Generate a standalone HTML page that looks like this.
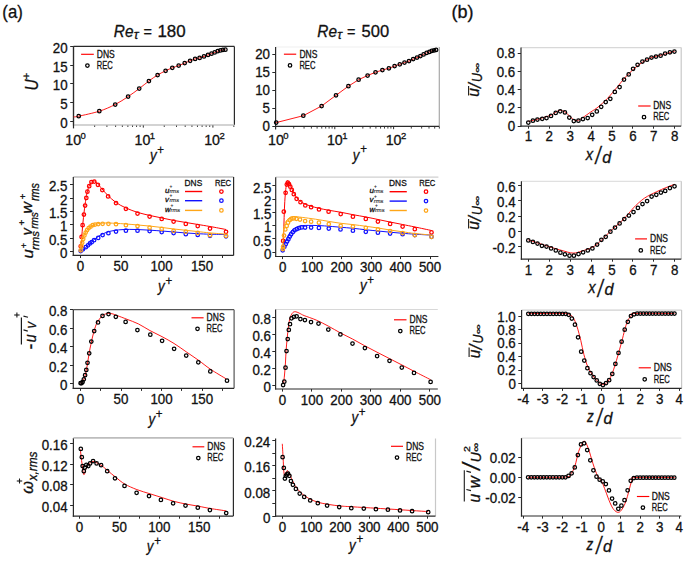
<!DOCTYPE html><html><head><meta charset="utf-8"><style>html,body{margin:0;padding:0;background:#fff;}svg{display:block;}</style></head><body><svg width="685" height="563" viewBox="0 0 685 563" font-family='"Liberation Sans", sans-serif' fill="#111" stroke="#111" stroke-width="0.3">
<rect width="685" height="563" fill="#fff" stroke="none"/>
<text transform="translate(2.36,17.53) scale(0.9461,1)" font-size="17.71">(a)</text>
<text transform="translate(451.48,17.61) scale(1.0119,1)" font-size="17.82">(b)</text>
<text transform="translate(113.83,36.94) scale(0.9323,1)" font-size="16.48" font-style="italic">Re</text>
<text transform="translate(133.83,38.68) scale(1.0332,1)" font-size="12.45" font-style="italic">τ</text>
<text transform="translate(143.5,36.55) scale(1.0318,1)" font-size="13.96">=</text>
<text transform="translate(157.41,36.94) scale(1.0425,1)" font-size="16.24">180</text>
<text transform="translate(317.33,36.94) scale(0.9323,1)" font-size="16.48" font-style="italic">Re</text>
<text transform="translate(337.33,38.68) scale(1.0332,1)" font-size="12.45" font-style="italic">τ</text>
<text transform="translate(347,36.55) scale(1.0318,1)" font-size="13.96">=</text>
<text transform="translate(361.54,36.94) scale(1.0188,1)" font-size="16.24">500</text>
<line x1="73.5" y1="46.4" x2="234.4" y2="46.4" stroke="#2a2a2a" stroke-width="1.2"/>
<line x1="234.4" y1="46.4" x2="234.4" y2="125" stroke="#2a2a2a" stroke-width="1.2"/>
<line x1="73.5" y1="46.4" x2="73.5" y2="125.6" stroke="#2a2a2a" stroke-width="1.2"/>
<line x1="73.5" y1="125" x2="234.4" y2="125" stroke="#c4c4c4" stroke-width="1.5"/>
<line x1="73.5" y1="46.4" x2="73.5" y2="128.4" stroke="#2a2a2a" stroke-width="1.2"/>
<line x1="70.2" y1="121.5" x2="73.5" y2="121.5" stroke="#2a2a2a" stroke-width="1.0"/>
<text x="67.7" y="127.85" font-size="14.2" text-anchor="end" textLength="7.42" lengthAdjust="spacingAndGlyphs">0</text>
<line x1="70.2" y1="102.5" x2="73.5" y2="102.5" stroke="#2a2a2a" stroke-width="1.0"/>
<text x="67.7" y="109.15" font-size="14.2" text-anchor="end" textLength="7.42" lengthAdjust="spacingAndGlyphs">5</text>
<line x1="70.2" y1="83.5" x2="73.5" y2="83.5" stroke="#2a2a2a" stroke-width="1.0"/>
<text x="67.7" y="90.45" font-size="14.2" text-anchor="end" textLength="14.83" lengthAdjust="spacingAndGlyphs">10</text>
<line x1="70.2" y1="65.5" x2="73.5" y2="65.5" stroke="#2a2a2a" stroke-width="1.0"/>
<text x="67.7" y="71.75" font-size="14.2" text-anchor="end" textLength="14.83" lengthAdjust="spacingAndGlyphs">15</text>
<line x1="70.2" y1="46.5" x2="73.5" y2="46.5" stroke="#2a2a2a" stroke-width="1.0"/>
<text x="67.7" y="52.95" font-size="14.2" text-anchor="end" textLength="14.83" lengthAdjust="spacingAndGlyphs">20</text>
<line x1="94.65" y1="125.5" x2="94.65" y2="127" stroke="#2a2a2a" stroke-width="0.9"/>
<line x1="106.91" y1="125.5" x2="106.91" y2="127" stroke="#2a2a2a" stroke-width="0.9"/>
<line x1="115.6" y1="125.5" x2="115.6" y2="127" stroke="#2a2a2a" stroke-width="0.9"/>
<line x1="122.35" y1="125.5" x2="122.35" y2="127" stroke="#2a2a2a" stroke-width="0.9"/>
<line x1="127.86" y1="125.5" x2="127.86" y2="127" stroke="#2a2a2a" stroke-width="0.9"/>
<line x1="132.52" y1="125.5" x2="132.52" y2="127" stroke="#2a2a2a" stroke-width="0.9"/>
<line x1="136.56" y1="125.5" x2="136.56" y2="127" stroke="#2a2a2a" stroke-width="0.9"/>
<line x1="140.12" y1="125.5" x2="140.12" y2="127" stroke="#2a2a2a" stroke-width="0.9"/>
<line x1="143.3" y1="125.4" x2="143.3" y2="127.6" stroke="#2a2a2a" stroke-width="1.0"/>
<line x1="164.25" y1="125.5" x2="164.25" y2="127" stroke="#2a2a2a" stroke-width="0.9"/>
<line x1="176.51" y1="125.5" x2="176.51" y2="127" stroke="#2a2a2a" stroke-width="0.9"/>
<line x1="185.2" y1="125.5" x2="185.2" y2="127" stroke="#2a2a2a" stroke-width="0.9"/>
<line x1="191.95" y1="125.5" x2="191.95" y2="127" stroke="#2a2a2a" stroke-width="0.9"/>
<line x1="197.46" y1="125.5" x2="197.46" y2="127" stroke="#2a2a2a" stroke-width="0.9"/>
<line x1="202.12" y1="125.5" x2="202.12" y2="127" stroke="#2a2a2a" stroke-width="0.9"/>
<line x1="206.16" y1="125.5" x2="206.16" y2="127" stroke="#2a2a2a" stroke-width="0.9"/>
<line x1="209.72" y1="125.5" x2="209.72" y2="127" stroke="#2a2a2a" stroke-width="0.9"/>
<line x1="212.9" y1="125.4" x2="212.9" y2="127.6" stroke="#2a2a2a" stroke-width="1.0"/>
<line x1="233.85" y1="125.5" x2="233.85" y2="127" stroke="#2a2a2a" stroke-width="0.9"/>
<text x="73.2" y="144.5" font-size="14.2" text-anchor="middle">10</text>
<text x="80.5" y="138.8" font-size="9.5">0</text>
<text x="142.5" y="144.5" font-size="14.2" text-anchor="middle">10</text>
<text x="149.8" y="138.8" font-size="9.5">1</text>
<text x="212.1" y="144.5" font-size="14.2" text-anchor="middle">10</text>
<text x="219.4" y="138.8" font-size="9.5">2</text>
<line x1="81.1" y1="54.3" x2="93.8" y2="54.3" stroke="#ff0000" stroke-width="1.15"/>
<g fill="none" stroke="#000" stroke-width="1.25"><circle cx="87.4" cy="65.6" r="1.75"/></g>
<text x="96.8" y="57.6" font-size="10.3" textLength="18" lengthAdjust="spacingAndGlyphs">DNS</text>
<text x="96.8" y="68.8" font-size="10.3" textLength="16" lengthAdjust="spacingAndGlyphs">REC</text>
<path d="M73.6,116.9 C74.45,116.78 74.42,117.15 78.7,116.2 C82.98,115.25 93.22,113.15 99.3,111.2 C105.38,109.25 110.4,106.93 115.2,104.5 C120,102.07 124.1,99.25 128.1,96.6 C132.1,93.95 135.73,91.2 139.2,88.6 C142.67,86 145.83,83.27 148.9,81 C151.97,78.73 154.82,76.7 157.6,75 C160.38,73.3 163.15,72 165.6,70.8 C168.05,69.6 170.12,68.67 172.3,67.8 C174.48,66.93 176.63,66.38 178.7,65.6 C180.77,64.82 182.8,63.9 184.7,63.1 C186.6,62.3 188.37,61.5 190.1,60.8 C191.83,60.1 193.52,59.38 195.1,58.9 C196.68,58.42 198.12,58.32 199.6,57.9 C201.08,57.48 202.6,56.9 204,56.4 C205.4,55.9 206.75,55.35 208,54.9 C209.25,54.45 210.38,54.12 211.5,53.7 C212.62,53.28 213.67,52.82 214.7,52.4 C215.73,51.98 216.75,51.53 217.7,51.2 C218.65,50.87 219.53,50.62 220.4,50.4 C221.27,50.18 222.07,50.02 222.9,49.9 C223.73,49.78 224.98,49.73 225.4,49.7" fill="none" stroke="#ff0000" stroke-width="0.9" stroke-linejoin="round"/>
<g fill="none" stroke="#000" stroke-width="1.25"><circle cx="78.7" cy="116.2" r="1.75"/><circle cx="99.3" cy="111.2" r="1.75"/><circle cx="115.2" cy="104.5" r="1.75"/><circle cx="128.1" cy="96.6" r="1.75"/><circle cx="139.2" cy="88.6" r="1.75"/><circle cx="148.9" cy="81" r="1.75"/><circle cx="157.6" cy="75" r="1.75"/><circle cx="165.6" cy="70.8" r="1.75"/><circle cx="172.3" cy="67.8" r="1.75"/><circle cx="178.7" cy="65.6" r="1.75"/><circle cx="184.7" cy="63.1" r="1.75"/><circle cx="190.1" cy="60.8" r="1.75"/><circle cx="195.1" cy="58.9" r="1.75"/><circle cx="199.6" cy="57.9" r="1.75"/><circle cx="204" cy="56.4" r="1.75"/><circle cx="208" cy="54.9" r="1.75"/><circle cx="211.5" cy="53.7" r="1.75"/><circle cx="214.7" cy="52.4" r="1.75"/><circle cx="217.7" cy="51.2" r="1.75"/><circle cx="220.4" cy="50.4" r="1.75"/><circle cx="222.9" cy="49.9" r="1.75"/><circle cx="225.4" cy="49.7" r="1.75"/></g>
<line x1="275.6" y1="47" x2="439.3" y2="47" stroke="#efefef" stroke-width="1.2"/>
<line x1="439.3" y1="47" x2="439.3" y2="126.4" stroke="#a8a8a8" stroke-width="1.2"/>
<line x1="275" y1="126.4" x2="439.3" y2="126.4" stroke="#2a2a2a" stroke-width="1.2"/>
<line x1="275.6" y1="47" x2="275.6" y2="127" stroke="#2a2a2a" stroke-width="1.2"/>
<line x1="275.6" y1="126.4" x2="275.6" y2="129.4" stroke="#2a2a2a" stroke-width="1.2"/>
<line x1="272.3" y1="126.5" x2="275.6" y2="126.5" stroke="#2a2a2a" stroke-width="1.0"/>
<text x="270" y="131.35" font-size="14.2" text-anchor="end" textLength="7.42" lengthAdjust="spacingAndGlyphs">0</text>
<line x1="272.3" y1="108.5" x2="275.6" y2="108.5" stroke="#2a2a2a" stroke-width="1.0"/>
<text x="270" y="113.35" font-size="14.2" text-anchor="end" textLength="7.42" lengthAdjust="spacingAndGlyphs">5</text>
<line x1="272.3" y1="90.5" x2="275.6" y2="90.5" stroke="#2a2a2a" stroke-width="1.0"/>
<text x="270" y="95.35" font-size="14.2" text-anchor="end" textLength="14.83" lengthAdjust="spacingAndGlyphs">10</text>
<line x1="272.3" y1="72.5" x2="275.6" y2="72.5" stroke="#2a2a2a" stroke-width="1.0"/>
<text x="270" y="77.35" font-size="14.2" text-anchor="end" textLength="14.83" lengthAdjust="spacingAndGlyphs">15</text>
<line x1="272.3" y1="54.5" x2="275.6" y2="54.5" stroke="#2a2a2a" stroke-width="1.0"/>
<text x="270" y="59.35" font-size="14.2" text-anchor="end" textLength="14.83" lengthAdjust="spacingAndGlyphs">20</text>
<line x1="293.7" y1="126.7" x2="293.7" y2="128.6" stroke="#2a2a2a" stroke-width="0.9"/>
<line x1="304.05" y1="126.7" x2="304.05" y2="128.6" stroke="#2a2a2a" stroke-width="0.9"/>
<line x1="311.4" y1="126.7" x2="311.4" y2="128.6" stroke="#2a2a2a" stroke-width="0.9"/>
<line x1="317.1" y1="126.7" x2="317.1" y2="128.6" stroke="#2a2a2a" stroke-width="0.9"/>
<line x1="321.76" y1="126.7" x2="321.76" y2="128.6" stroke="#2a2a2a" stroke-width="0.9"/>
<line x1="325.69" y1="126.7" x2="325.69" y2="128.6" stroke="#2a2a2a" stroke-width="0.9"/>
<line x1="329.1" y1="126.7" x2="329.1" y2="128.6" stroke="#2a2a2a" stroke-width="0.9"/>
<line x1="332.11" y1="126.7" x2="332.11" y2="128.6" stroke="#2a2a2a" stroke-width="0.9"/>
<line x1="334.8" y1="126.4" x2="334.8" y2="129.2" stroke="#2a2a2a" stroke-width="1.0"/>
<line x1="352.5" y1="126.7" x2="352.5" y2="128.6" stroke="#2a2a2a" stroke-width="0.9"/>
<line x1="362.85" y1="126.7" x2="362.85" y2="128.6" stroke="#2a2a2a" stroke-width="0.9"/>
<line x1="370.2" y1="126.7" x2="370.2" y2="128.6" stroke="#2a2a2a" stroke-width="0.9"/>
<line x1="375.9" y1="126.7" x2="375.9" y2="128.6" stroke="#2a2a2a" stroke-width="0.9"/>
<line x1="380.56" y1="126.7" x2="380.56" y2="128.6" stroke="#2a2a2a" stroke-width="0.9"/>
<line x1="384.49" y1="126.7" x2="384.49" y2="128.6" stroke="#2a2a2a" stroke-width="0.9"/>
<line x1="387.9" y1="126.7" x2="387.9" y2="128.6" stroke="#2a2a2a" stroke-width="0.9"/>
<line x1="390.91" y1="126.7" x2="390.91" y2="128.6" stroke="#2a2a2a" stroke-width="0.9"/>
<line x1="393.6" y1="126.4" x2="393.6" y2="129.2" stroke="#2a2a2a" stroke-width="1.0"/>
<line x1="411.3" y1="126.7" x2="411.3" y2="128.6" stroke="#2a2a2a" stroke-width="0.9"/>
<line x1="421.65" y1="126.7" x2="421.65" y2="128.6" stroke="#2a2a2a" stroke-width="0.9"/>
<line x1="429" y1="126.7" x2="429" y2="128.6" stroke="#2a2a2a" stroke-width="0.9"/>
<line x1="434.7" y1="126.7" x2="434.7" y2="128.6" stroke="#2a2a2a" stroke-width="0.9"/>
<line x1="439.36" y1="126.7" x2="439.36" y2="128.6" stroke="#2a2a2a" stroke-width="0.9"/>
<text x="275.9" y="145" font-size="14.2" text-anchor="middle">10</text>
<text x="283.3" y="138.8" font-size="9.5">0</text>
<text x="334.8" y="145" font-size="14.2" text-anchor="middle">10</text>
<text x="342.2" y="138.8" font-size="9.5">1</text>
<text x="393.6" y="145" font-size="14.2" text-anchor="middle">10</text>
<text x="401" y="138.8" font-size="9.5">2</text>
<line x1="283.9" y1="54.2" x2="296.2" y2="54.2" stroke="#ff0000" stroke-width="1.15"/>
<g fill="none" stroke="#000" stroke-width="1.25"><circle cx="290" cy="65.4" r="1.75"/></g>
<text x="299.4" y="57.5" font-size="10.3" textLength="18" lengthAdjust="spacingAndGlyphs">DNS</text>
<text x="299.4" y="68.6" font-size="10.3" textLength="16" lengthAdjust="spacingAndGlyphs">REC</text>
<path d="M276.2,122.6 L303.3,115.7 L321.6,106 L336,95.3 L348.4,86.2 L358.6,79.7 L367.6,75.5 L375.5,72.3 L382.4,70 L388.9,68.3 L394.6,66.1 L399.8,64.3 L404.5,62.6 L409,61.1 L413.2,59.1 L417,57.6 L420.4,56.1 L423.6,54.4 L426.6,52.9 L429.4,51.9 L431.8,50.9 L434.1,50.4 L436.1,49.9" fill="none" stroke="#ff0000" stroke-width="0.9" stroke-linejoin="round"/>
<g fill="none" stroke="#000" stroke-width="1.25"><circle cx="276.2" cy="122.6" r="1.75"/><circle cx="303.3" cy="115.7" r="1.75"/><circle cx="321.6" cy="106" r="1.75"/><circle cx="336" cy="95.3" r="1.75"/><circle cx="348.4" cy="86.2" r="1.75"/><circle cx="358.6" cy="79.7" r="1.75"/><circle cx="367.6" cy="75.5" r="1.75"/><circle cx="375.5" cy="72.3" r="1.75"/><circle cx="382.4" cy="70" r="1.75"/><circle cx="388.9" cy="68.3" r="1.75"/><circle cx="394.6" cy="66.1" r="1.75"/><circle cx="399.8" cy="64.3" r="1.75"/><circle cx="404.5" cy="62.6" r="1.75"/><circle cx="409" cy="61.1" r="1.75"/><circle cx="413.2" cy="59.1" r="1.75"/><circle cx="417" cy="57.6" r="1.75"/><circle cx="420.4" cy="56.1" r="1.75"/><circle cx="423.6" cy="54.4" r="1.75"/><circle cx="426.6" cy="52.9" r="1.75"/><circle cx="429.4" cy="51.9" r="1.75"/><circle cx="431.8" cy="50.9" r="1.75"/><circle cx="434.1" cy="50.4" r="1.75"/><circle cx="436.1" cy="49.9" r="1.75"/></g>
<line x1="73.3" y1="177" x2="233.6" y2="177" stroke="#9a9a9a" stroke-width="1.2"/>
<line x1="233.6" y1="177" x2="233.6" y2="255.4" stroke="#2a2a2a" stroke-width="1.2"/>
<line x1="72.7" y1="255.4" x2="233.6" y2="255.4" stroke="#2a2a2a" stroke-width="1.2"/>
<line x1="73.3" y1="177" x2="73.3" y2="256" stroke="#2a2a2a" stroke-width="1.2"/>
<line x1="70" y1="251.5" x2="73.3" y2="251.5" stroke="#2a2a2a" stroke-width="1.0"/>
<text x="67.5" y="257.95" font-size="14.2" text-anchor="end" textLength="7.42" lengthAdjust="spacingAndGlyphs">0</text>
<line x1="70" y1="238.5" x2="73.3" y2="238.5" stroke="#2a2a2a" stroke-width="1.0"/>
<text x="67.5" y="244.6" font-size="14.2" text-anchor="end" textLength="18.52" lengthAdjust="spacingAndGlyphs">0.5</text>
<line x1="70" y1="224.5" x2="73.3" y2="224.5" stroke="#2a2a2a" stroke-width="1.0"/>
<text x="67.5" y="231.25" font-size="14.2" text-anchor="end" textLength="7.42" lengthAdjust="spacingAndGlyphs">1</text>
<line x1="70" y1="211.5" x2="73.3" y2="211.5" stroke="#2a2a2a" stroke-width="1.0"/>
<text x="67.5" y="217.9" font-size="14.2" text-anchor="end" textLength="18.52" lengthAdjust="spacingAndGlyphs">1.5</text>
<line x1="70" y1="198.5" x2="73.3" y2="198.5" stroke="#2a2a2a" stroke-width="1.0"/>
<text x="67.5" y="204.55" font-size="14.2" text-anchor="end" textLength="7.42" lengthAdjust="spacingAndGlyphs">2</text>
<line x1="70" y1="184.5" x2="73.3" y2="184.5" stroke="#2a2a2a" stroke-width="1.0"/>
<text x="67.5" y="191.2" font-size="14.2" text-anchor="end" textLength="18.52" lengthAdjust="spacingAndGlyphs">2.5</text>
<line x1="80.5" y1="255.4" x2="80.5" y2="258" stroke="#2a2a2a" stroke-width="1.0"/>
<text x="80.5" y="270.7" font-size="14.2" text-anchor="middle" textLength="7.42" lengthAdjust="spacingAndGlyphs">0</text>
<line x1="100.5" y1="255.4" x2="100.5" y2="258" stroke="#2a2a2a" stroke-width="1.0"/>
<line x1="121.5" y1="255.4" x2="121.5" y2="258" stroke="#2a2a2a" stroke-width="1.0"/>
<text x="121" y="270.7" font-size="14.2" text-anchor="middle" textLength="14.83" lengthAdjust="spacingAndGlyphs">50</text>
<line x1="141.5" y1="255.4" x2="141.5" y2="258" stroke="#2a2a2a" stroke-width="1.0"/>
<line x1="161.5" y1="255.4" x2="161.5" y2="258" stroke="#2a2a2a" stroke-width="1.0"/>
<text x="161.5" y="270.7" font-size="14.2" text-anchor="middle" textLength="22.25" lengthAdjust="spacingAndGlyphs">100</text>
<line x1="181.5" y1="255.4" x2="181.5" y2="258" stroke="#2a2a2a" stroke-width="1.0"/>
<line x1="202.5" y1="255.4" x2="202.5" y2="258" stroke="#2a2a2a" stroke-width="1.0"/>
<text x="202" y="270.7" font-size="14.2" text-anchor="middle" textLength="22.25" lengthAdjust="spacingAndGlyphs">150</text>
<line x1="222.5" y1="255.4" x2="222.5" y2="258" stroke="#2a2a2a" stroke-width="1.0"/>
<path d="M80.5,251.5 C80.67,249.58 81.08,244.92 81.5,240 C81.92,235.08 82.42,227.83 83,222 C83.58,216.17 84.33,209.83 85,205 C85.67,200.17 86.25,196.33 87,193 C87.75,189.67 88.67,186.92 89.5,185 C90.33,183.08 91.17,182.17 92,181.5 C92.83,180.83 93.58,180.67 94.5,181 C95.42,181.33 96.25,182.17 97.5,183.5 C98.75,184.83 100.25,187 102,189 C103.75,191 105.67,193.25 108,195.5 C110.33,197.75 113,200.42 116,202.5 C119,204.58 122.33,206.33 126,208 C129.67,209.67 134,211.25 138,212.5 C142,213.75 146,214.58 150,215.5 C154,216.42 158,217.17 162,218 C166,218.83 170,219.75 174,220.5 C178,221.25 182,221.83 186,222.5 C190,223.17 194,223.83 198,224.5 C202,225.17 205.33,225.67 210,226.5 C214.67,227.33 223.33,229 226,229.5" fill="none" stroke="#ff0000" stroke-width="1.0" stroke-linejoin="round"/>
<g fill="none" stroke="#ff0000" stroke-width="1.25"><circle cx="80.7" cy="246.3" r="1.75"/><circle cx="81.6" cy="236.9" r="1.75"/><circle cx="82.6" cy="225.2" r="1.75"/><circle cx="83.9" cy="214.6" r="1.75"/><circle cx="85.1" cy="205.6" r="1.75"/><circle cx="86.3" cy="197.9" r="1.75"/><circle cx="87.4" cy="191.7" r="1.75"/><circle cx="89.2" cy="186.2" r="1.75"/><circle cx="91.4" cy="182" r="1.75"/><circle cx="94.3" cy="181.6" r="1.75"/><circle cx="97.9" cy="184.8" r="1.75"/><circle cx="102.3" cy="190" r="1.75"/><circle cx="108.1" cy="196.4" r="1.75"/><circle cx="116" cy="203.1" r="1.75"/><circle cx="125.9" cy="208.8" r="1.75"/><circle cx="137.5" cy="213.6" r="1.75"/><circle cx="149.6" cy="216.5" r="1.75"/><circle cx="161.7" cy="218.9" r="1.75"/><circle cx="173.6" cy="221.6" r="1.75"/><circle cx="185.8" cy="223.9" r="1.75"/><circle cx="197.7" cy="226" r="1.75"/><circle cx="210" cy="228.6" r="1.75"/><circle cx="226" cy="231.8" r="1.75"/></g>
<path d="M80.5,251.5 C81.08,251.08 82.75,250 84,249 C85.25,248 86.5,246.92 88,245.5 C89.5,244.08 91.17,242.08 93,240.5 C94.83,238.92 96.83,237.33 99,236 C101.17,234.67 103.5,233.42 106,232.5 C108.5,231.58 111,231 114,230.5 C117,230 120.33,229.67 124,229.5 C127.67,229.33 131.67,229.38 136,229.5 C140.33,229.62 145.67,229.95 150,230.2 C154.33,230.45 158,230.7 162,231 C166,231.3 170,231.67 174,232 C178,232.33 182,232.72 186,233 C190,233.28 194,233.5 198,233.7 C202,233.9 205.33,234.07 210,234.2 C214.67,234.33 223.33,234.45 226,234.5" fill="none" stroke="#1010ff" stroke-width="1.0" stroke-linejoin="round"/>
<g fill="none" stroke="#1010ff" stroke-width="1.25"><circle cx="80.7" cy="251" r="1.75"/><circle cx="82.9" cy="249.3" r="1.75"/><circle cx="85.8" cy="247.2" r="1.75"/><circle cx="88" cy="245.3" r="1.75"/><circle cx="89.9" cy="243.4" r="1.75"/><circle cx="91.7" cy="242.2" r="1.75"/><circle cx="94.1" cy="240.2" r="1.75"/><circle cx="98.2" cy="237.9" r="1.75"/><circle cx="102.6" cy="235" r="1.75"/><circle cx="108.4" cy="233.2" r="1.75"/><circle cx="116" cy="231.5" r="1.75"/><circle cx="125.9" cy="230.7" r="1.75"/><circle cx="137.5" cy="230.7" r="1.75"/><circle cx="149.6" cy="231" r="1.75"/><circle cx="161.7" cy="232" r="1.75"/><circle cx="173.6" cy="233" r="1.75"/><circle cx="185.8" cy="234.2" r="1.75"/><circle cx="197.7" cy="234.9" r="1.75"/><circle cx="210" cy="235.8" r="1.75"/><circle cx="226" cy="236.3" r="1.75"/></g>
<path d="M80.5,251.5 C80.75,250.08 81.42,245.58 82,243 C82.58,240.42 83.25,238 84,236 C84.75,234 85.58,232.42 86.5,231 C87.42,229.58 88.42,228.45 89.5,227.5 C90.58,226.55 91.58,225.93 93,225.3 C94.42,224.67 96,224.08 98,223.7 C100,223.32 102.17,223.07 105,223 C107.83,222.93 111.5,223.13 115,223.3 C118.5,223.47 122.17,223.72 126,224 C129.83,224.28 134,224.65 138,225 C142,225.35 146,225.68 150,226.1 C154,226.52 158,227.02 162,227.5 C166,227.98 170,228.53 174,229 C178,229.47 182,229.87 186,230.3 C190,230.73 194,231.17 198,231.6 C202,232.03 205.33,232.47 210,232.9 C214.67,233.33 223.33,233.98 226,234.2" fill="none" stroke="#ffa618" stroke-width="1.0" stroke-linejoin="round"/>
<g fill="none" stroke="#ffa618" stroke-width="1.25"><circle cx="80.7" cy="250.3" r="1.75"/><circle cx="81.5" cy="246.3" r="1.75"/><circle cx="82.2" cy="242.7" r="1.75"/><circle cx="83.2" cy="239" r="1.75"/><circle cx="84.4" cy="235.4" r="1.75"/><circle cx="85.7" cy="232.5" r="1.75"/><circle cx="87.1" cy="230" r="1.75"/><circle cx="88.7" cy="228.1" r="1.75"/><circle cx="90.5" cy="226.7" r="1.75"/><circle cx="92.7" cy="225.2" r="1.75"/><circle cx="95" cy="224.5" r="1.75"/><circle cx="98.2" cy="224.1" r="1.75"/><circle cx="102.6" cy="223.8" r="1.75"/><circle cx="108.4" cy="223.8" r="1.75"/><circle cx="116" cy="224.2" r="1.75"/><circle cx="125.9" cy="225.2" r="1.75"/><circle cx="137.5" cy="226" r="1.75"/><circle cx="149.6" cy="227.7" r="1.75"/><circle cx="161.7" cy="228.9" r="1.75"/><circle cx="173.6" cy="230.8" r="1.75"/><circle cx="185.8" cy="231.7" r="1.75"/><circle cx="197.7" cy="232.9" r="1.75"/><circle cx="210" cy="235.2" r="1.75"/><circle cx="226" cy="235.8" r="1.75"/></g>
<text x="184.6" y="185.8" font-size="9.4" textLength="17.6" lengthAdjust="spacingAndGlyphs">DNS</text>
<text x="214.9" y="185.8" font-size="9.4" textLength="16.1" lengthAdjust="spacingAndGlyphs">REC</text>
<line x1="185" y1="191.5" x2="202.2" y2="191.5" stroke="#ff0000" stroke-width="1.4"/>
<g fill="none" stroke="#ff0000" stroke-width="1.25"><circle cx="221.4" cy="191.5" r="1.75"/></g>
<text x="165" y="192.7" font-size="7.9" font-style="italic" stroke-width="0.3">u</text>
<text x="169.5" y="188" font-size="4.8" stroke="#222" stroke-width="0.12" fill="#222">+</text>
<text x="169.4" y="193.2" font-size="6.0" font-style="italic" textLength="9.7" lengthAdjust="spacingAndGlyphs" stroke="#222" stroke-width="0.12" fill="#222">rms</text>
<line x1="185" y1="200.7" x2="202.2" y2="200.7" stroke="#1010ff" stroke-width="1.4"/>
<g fill="none" stroke="#1010ff" stroke-width="1.25"><circle cx="221.4" cy="200.7" r="1.75"/></g>
<text x="165" y="201.9" font-size="7.9" font-style="italic" stroke-width="0.3">v</text>
<text x="169.5" y="197.2" font-size="4.8" stroke="#222" stroke-width="0.12" fill="#222">+</text>
<text x="169.4" y="202.4" font-size="6.0" font-style="italic" textLength="9.7" lengthAdjust="spacingAndGlyphs" stroke="#222" stroke-width="0.12" fill="#222">rms</text>
<line x1="185" y1="210.4" x2="202.2" y2="210.4" stroke="#ffa618" stroke-width="1.4"/>
<g fill="none" stroke="#ffa618" stroke-width="1.25"><circle cx="221.4" cy="210.4" r="1.75"/></g>
<text x="165" y="211.6" font-size="7.6" font-style="italic" stroke-width="0.3">w</text>
<text x="170.6" y="206.9" font-size="4.8" stroke="#222" stroke-width="0.12" fill="#222">+</text>
<text x="170.5" y="212.1" font-size="6.0" font-style="italic" textLength="9.7" lengthAdjust="spacingAndGlyphs" stroke="#222" stroke-width="0.12" fill="#222">rms</text>
<line x1="275.7" y1="177.2" x2="438.4" y2="177.2" stroke="#d0d0d0" stroke-width="1.2"/>
<line x1="275.1" y1="256.5" x2="438.4" y2="256.5" stroke="#2a2a2a" stroke-width="1.2"/>
<line x1="275.7" y1="177.2" x2="275.7" y2="257.1" stroke="#2a2a2a" stroke-width="1.2"/>
<line x1="272.4" y1="252.5" x2="275.7" y2="252.5" stroke="#2a2a2a" stroke-width="1.0"/>
<text x="271.4" y="258.75" font-size="14.2" text-anchor="end" textLength="7.42" lengthAdjust="spacingAndGlyphs">0</text>
<line x1="272.4" y1="238.5" x2="275.7" y2="238.5" stroke="#2a2a2a" stroke-width="1.0"/>
<text x="271.4" y="245.5" font-size="14.2" text-anchor="end" textLength="18.52" lengthAdjust="spacingAndGlyphs">0.5</text>
<line x1="272.4" y1="225.5" x2="275.7" y2="225.5" stroke="#2a2a2a" stroke-width="1.0"/>
<text x="271.4" y="232.25" font-size="14.2" text-anchor="end" textLength="7.42" lengthAdjust="spacingAndGlyphs">1</text>
<line x1="272.4" y1="212.5" x2="275.7" y2="212.5" stroke="#2a2a2a" stroke-width="1.0"/>
<text x="271.4" y="219" font-size="14.2" text-anchor="end" textLength="18.52" lengthAdjust="spacingAndGlyphs">1.5</text>
<line x1="272.4" y1="199.5" x2="275.7" y2="199.5" stroke="#2a2a2a" stroke-width="1.0"/>
<text x="271.4" y="205.75" font-size="14.2" text-anchor="end" textLength="7.42" lengthAdjust="spacingAndGlyphs">2</text>
<line x1="272.4" y1="185.5" x2="275.7" y2="185.5" stroke="#2a2a2a" stroke-width="1.0"/>
<text x="271.4" y="192.5" font-size="14.2" text-anchor="end" textLength="18.52" lengthAdjust="spacingAndGlyphs">2.5</text>
<line x1="282.5" y1="256.5" x2="282.5" y2="259.1" stroke="#2a2a2a" stroke-width="1.0"/>
<text x="282.7" y="272.3" font-size="14.2" text-anchor="middle" textLength="7.42" lengthAdjust="spacingAndGlyphs">0</text>
<line x1="312.5" y1="256.5" x2="312.5" y2="259.1" stroke="#2a2a2a" stroke-width="1.0"/>
<text x="312.17" y="272.3" font-size="14.2" text-anchor="middle" textLength="22.25" lengthAdjust="spacingAndGlyphs">100</text>
<line x1="341.5" y1="256.5" x2="341.5" y2="259.1" stroke="#2a2a2a" stroke-width="1.0"/>
<text x="341.64" y="272.3" font-size="14.2" text-anchor="middle" textLength="22.25" lengthAdjust="spacingAndGlyphs">200</text>
<line x1="371.5" y1="256.5" x2="371.5" y2="259.1" stroke="#2a2a2a" stroke-width="1.0"/>
<text x="371.11" y="272.3" font-size="14.2" text-anchor="middle" textLength="22.25" lengthAdjust="spacingAndGlyphs">300</text>
<line x1="400.5" y1="256.5" x2="400.5" y2="259.1" stroke="#2a2a2a" stroke-width="1.0"/>
<text x="400.58" y="272.3" font-size="14.2" text-anchor="middle" textLength="22.25" lengthAdjust="spacingAndGlyphs">400</text>
<line x1="430.5" y1="256.5" x2="430.5" y2="259.1" stroke="#2a2a2a" stroke-width="1.0"/>
<text x="430.05" y="272.3" font-size="14.2" text-anchor="middle" textLength="22.25" lengthAdjust="spacingAndGlyphs">500</text>
<path d="M283.1,250 C283.17,248.42 283.35,245.17 283.5,240.5 C283.65,235.83 283.82,227.92 284,222 C284.18,216.08 284.35,210 284.6,205 C284.85,200 285.18,195.5 285.5,192 C285.82,188.5 286.18,185.87 286.5,184 C286.82,182.13 287.07,181.22 287.4,180.8 C287.73,180.38 287.98,180.72 288.5,181.5 C289.02,182.28 289.75,183.83 290.5,185.5 C291.25,187.17 292,189.5 293,191.5 C294,193.5 295.25,195.83 296.5,197.5 C297.75,199.17 299.08,200.42 300.5,201.5 C301.92,202.58 303.25,203.22 305,204 C306.75,204.78 308.67,205.48 311,206.2 C313.33,206.92 316,207.62 319,208.3 C322,208.98 325.33,209.63 329,210.3 C332.67,210.97 337,211.57 341,212.3 C345,213.03 348.83,213.92 353,214.7 C357.17,215.48 361.83,216.2 366,217 C370.17,217.8 374,218.67 378,219.5 C382,220.33 385.9,221.17 390,222 C394.1,222.83 398.43,223.67 402.6,224.5 C406.77,225.33 410.18,226 415,227 C419.82,228 428.75,229.92 431.5,230.5" fill="none" stroke="#ff0000" stroke-width="1.0" stroke-linejoin="round"/>
<g fill="none" stroke="#ff0000" stroke-width="1.25"><circle cx="283.1" cy="240.9" r="1.75"/><circle cx="283.8" cy="211.7" r="1.75"/><circle cx="285.6" cy="192.8" r="1.75"/><circle cx="286.8" cy="184.5" r="1.75"/><circle cx="287.8" cy="182.6" r="1.75"/><circle cx="289" cy="184" r="1.75"/><circle cx="290.3" cy="186.7" r="1.75"/><circle cx="291.8" cy="189.9" r="1.75"/><circle cx="293.8" cy="194.2" r="1.75"/><circle cx="296.6" cy="198.8" r="1.75"/><circle cx="300.5" cy="202.2" r="1.75"/><circle cx="305.3" cy="205.4" r="1.75"/><circle cx="311.1" cy="207.2" r="1.75"/><circle cx="319" cy="209.4" r="1.75"/><circle cx="328.6" cy="211.7" r="1.75"/><circle cx="340.7" cy="214.1" r="1.75"/><circle cx="352.9" cy="216.7" r="1.75"/><circle cx="365.8" cy="218.9" r="1.75"/><circle cx="377.9" cy="221.5" r="1.75"/><circle cx="390.1" cy="223.9" r="1.75"/><circle cx="402.6" cy="226.5" r="1.75"/><circle cx="414.8" cy="229.2" r="1.75"/><circle cx="431.5" cy="232.4" r="1.75"/></g>
<path d="M282.7,251.1 C283.13,249.63 284.27,245.1 285.3,242.3 C286.33,239.5 287.57,236.52 288.9,234.3 C290.23,232.08 291.38,230.4 293.3,229 C295.22,227.6 297.43,226.5 300.4,225.9 C303.37,225.3 307.1,225.4 311.1,225.4 C315.1,225.4 319.58,225.6 324.4,225.9 C329.22,226.2 335.23,226.8 340,227.2 C344.77,227.6 348.67,227.87 353,228.3 C357.33,228.73 361.83,229.35 366,229.8 C370.17,230.25 374,230.6 378,231 C382,231.4 385.9,231.82 390,232.2 C394.1,232.58 398.43,232.97 402.6,233.3 C406.77,233.63 410.18,233.9 415,234.2 C419.82,234.5 428.75,234.95 431.5,235.1" fill="none" stroke="#1010ff" stroke-width="1.0" stroke-linejoin="round"/>
<g fill="none" stroke="#1010ff" stroke-width="1.25"><circle cx="282.7" cy="250.3" r="1.75"/><circle cx="284.4" cy="246.7" r="1.75"/><circle cx="285.8" cy="244" r="1.75"/><circle cx="287.1" cy="241.4" r="1.75"/><circle cx="288.4" cy="239.2" r="1.75"/><circle cx="289.8" cy="236.5" r="1.75"/><circle cx="291.1" cy="234.3" r="1.75"/><circle cx="292.9" cy="232.1" r="1.75"/><circle cx="294.6" cy="230.3" r="1.75"/><circle cx="296.9" cy="229" r="1.75"/><circle cx="299.1" cy="228.1" r="1.75"/><circle cx="301.7" cy="227.4" r="1.75"/><circle cx="305.1" cy="227.6" r="1.75"/><circle cx="311.1" cy="227.6" r="1.75"/><circle cx="318.9" cy="227.9" r="1.75"/><circle cx="328.8" cy="228.5" r="1.75"/><circle cx="340.5" cy="229.4" r="1.75"/><circle cx="352.9" cy="230.7" r="1.75"/><circle cx="365.8" cy="231.8" r="1.75"/><circle cx="377.9" cy="232.7" r="1.75"/><circle cx="390.1" cy="233.5" r="1.75"/><circle cx="402.6" cy="234.2" r="1.75"/><circle cx="414.8" cy="235.1" r="1.75"/><circle cx="431.5" cy="236.8" r="1.75"/></g>
<path d="M282.8,250 C282.92,246.93 283.08,236.15 283.5,231.6 C283.92,227.05 284.4,224.92 285.3,222.7 C286.2,220.48 287.57,219.33 288.9,218.3 C290.23,217.27 291.08,216.65 293.3,216.5 C295.52,216.35 298.5,216.95 302.2,217.4 C305.9,217.85 311.07,218.53 315.5,219.2 C319.93,219.87 324.55,220.72 328.8,221.4 C333.05,222.08 336.97,222.77 341,223.3 C345.03,223.83 348.83,224.1 353,224.6 C357.17,225.1 361.83,225.73 366,226.3 C370.17,226.87 374,227.38 378,228 C382,228.62 385.9,229.37 390,230 C394.1,230.63 398.43,231.22 402.6,231.8 C406.77,232.38 410.18,232.95 415,233.5 C419.82,234.05 428.75,234.83 431.5,235.1" fill="none" stroke="#ffa618" stroke-width="1.0" stroke-linejoin="round"/>
<g fill="none" stroke="#ffa618" stroke-width="1.25"><circle cx="282.9" cy="249" r="1.75"/><circle cx="283.1" cy="246.7" r="1.75"/><circle cx="284" cy="235.6" r="1.75"/><circle cx="285.3" cy="229.4" r="1.75"/><circle cx="286.7" cy="225.9" r="1.75"/><circle cx="288" cy="222.7" r="1.75"/><circle cx="289.8" cy="220.1" r="1.75"/><circle cx="291.5" cy="218.8" r="1.75"/><circle cx="293.8" cy="218.3" r="1.75"/><circle cx="296.4" cy="218.8" r="1.75"/><circle cx="300" cy="219.6" r="1.75"/><circle cx="305.1" cy="221" r="1.75"/><circle cx="311.1" cy="221.7" r="1.75"/><circle cx="318.9" cy="222.7" r="1.75"/><circle cx="328.8" cy="224.1" r="1.75"/><circle cx="340.7" cy="225.9" r="1.75"/><circle cx="352.9" cy="226.5" r="1.75"/><circle cx="365.8" cy="227.8" r="1.75"/><circle cx="377.9" cy="229.4" r="1.75"/><circle cx="390.1" cy="231.1" r="1.75"/><circle cx="402.6" cy="233.1" r="1.75"/><circle cx="414.8" cy="235.1" r="1.75"/><circle cx="431.5" cy="236.8" r="1.75"/></g>
<text x="389.1" y="186" font-size="9.4" textLength="17.6" lengthAdjust="spacingAndGlyphs">DNS</text>
<text x="419.2" y="186" font-size="9.4" textLength="16.1" lengthAdjust="spacingAndGlyphs">REC</text>
<line x1="389.6" y1="191.7" x2="406.8" y2="191.7" stroke="#ff0000" stroke-width="1.4"/>
<g fill="none" stroke="#ff0000" stroke-width="1.25"><circle cx="426" cy="191.7" r="1.75"/></g>
<text x="369.4" y="192.9" font-size="7.9" font-style="italic" stroke-width="0.3">u</text>
<text x="373.9" y="188.2" font-size="4.8" stroke="#222" stroke-width="0.12" fill="#222">+</text>
<text x="373.8" y="193.4" font-size="6.0" font-style="italic" textLength="9.7" lengthAdjust="spacingAndGlyphs" stroke="#222" stroke-width="0.12" fill="#222">rms</text>
<line x1="389.6" y1="201.1" x2="406.8" y2="201.1" stroke="#1010ff" stroke-width="1.4"/>
<g fill="none" stroke="#1010ff" stroke-width="1.25"><circle cx="426" cy="201.1" r="1.75"/></g>
<text x="369.4" y="202.3" font-size="7.9" font-style="italic" stroke-width="0.3">v</text>
<text x="373.9" y="197.6" font-size="4.8" stroke="#222" stroke-width="0.12" fill="#222">+</text>
<text x="373.8" y="202.8" font-size="6.0" font-style="italic" textLength="9.7" lengthAdjust="spacingAndGlyphs" stroke="#222" stroke-width="0.12" fill="#222">rms</text>
<line x1="389.6" y1="210.5" x2="406.8" y2="210.5" stroke="#ffa618" stroke-width="1.4"/>
<g fill="none" stroke="#ffa618" stroke-width="1.25"><circle cx="426" cy="210.5" r="1.75"/></g>
<text x="369.4" y="211.7" font-size="7.6" font-style="italic" stroke-width="0.3">w</text>
<text x="375" y="207" font-size="4.8" stroke="#222" stroke-width="0.12" fill="#222">+</text>
<text x="374.9" y="212.2" font-size="6.0" font-style="italic" textLength="9.7" lengthAdjust="spacingAndGlyphs" stroke="#222" stroke-width="0.12" fill="#222">rms</text>
<line x1="73.3" y1="309.7" x2="234.1" y2="309.7" stroke="#555" stroke-width="1.2"/>
<line x1="234.1" y1="309.7" x2="234.1" y2="388.3" stroke="#555" stroke-width="1.2"/>
<line x1="72.7" y1="388.3" x2="234.1" y2="388.3" stroke="#2a2a2a" stroke-width="1.2"/>
<line x1="73.3" y1="309.7" x2="73.3" y2="388.9" stroke="#2a2a2a" stroke-width="1.2"/>
<line x1="70" y1="383.5" x2="73.3" y2="383.5" stroke="#2a2a2a" stroke-width="1.0"/>
<text x="67.5" y="390.05" font-size="14.2" text-anchor="end" textLength="7.42" lengthAdjust="spacingAndGlyphs">0</text>
<line x1="70" y1="365.5" x2="73.3" y2="365.5" stroke="#2a2a2a" stroke-width="1.0"/>
<text x="67.5" y="371.57" font-size="14.2" text-anchor="end" textLength="18.52" lengthAdjust="spacingAndGlyphs">0.2</text>
<line x1="70" y1="346.5" x2="73.3" y2="346.5" stroke="#2a2a2a" stroke-width="1.0"/>
<text x="67.5" y="353.09" font-size="14.2" text-anchor="end" textLength="18.52" lengthAdjust="spacingAndGlyphs">0.4</text>
<line x1="70" y1="328.5" x2="73.3" y2="328.5" stroke="#2a2a2a" stroke-width="1.0"/>
<text x="67.5" y="334.61" font-size="14.2" text-anchor="end" textLength="18.52" lengthAdjust="spacingAndGlyphs">0.6</text>
<line x1="70" y1="309.5" x2="73.3" y2="309.5" stroke="#2a2a2a" stroke-width="1.0"/>
<text x="67.5" y="316.13" font-size="14.2" text-anchor="end" textLength="18.52" lengthAdjust="spacingAndGlyphs">0.8</text>
<line x1="80.5" y1="388.3" x2="80.5" y2="390.9" stroke="#2a2a2a" stroke-width="1.0"/>
<text x="80.5" y="403.8" font-size="14.2" text-anchor="middle" textLength="7.42" lengthAdjust="spacingAndGlyphs">0</text>
<line x1="100.5" y1="388.3" x2="100.5" y2="390.9" stroke="#2a2a2a" stroke-width="1.0"/>
<line x1="121.5" y1="388.3" x2="121.5" y2="390.9" stroke="#2a2a2a" stroke-width="1.0"/>
<text x="121" y="403.8" font-size="14.2" text-anchor="middle" textLength="14.83" lengthAdjust="spacingAndGlyphs">50</text>
<line x1="141.5" y1="388.3" x2="141.5" y2="390.9" stroke="#2a2a2a" stroke-width="1.0"/>
<line x1="161.5" y1="388.3" x2="161.5" y2="390.9" stroke="#2a2a2a" stroke-width="1.0"/>
<text x="161.5" y="403.8" font-size="14.2" text-anchor="middle" textLength="22.25" lengthAdjust="spacingAndGlyphs">100</text>
<line x1="181.5" y1="388.3" x2="181.5" y2="390.9" stroke="#2a2a2a" stroke-width="1.0"/>
<line x1="202.5" y1="388.3" x2="202.5" y2="390.9" stroke="#2a2a2a" stroke-width="1.0"/>
<text x="202" y="403.8" font-size="14.2" text-anchor="middle" textLength="22.25" lengthAdjust="spacingAndGlyphs">150</text>
<line x1="222.5" y1="388.3" x2="222.5" y2="390.9" stroke="#2a2a2a" stroke-width="1.0"/>
<path d="M80.6,383.5 C81,383.08 82.27,382.25 83,381 C83.73,379.75 84.32,378.5 85,376 C85.68,373.5 86.43,369.67 87.1,366 C87.77,362.33 88.37,357.62 89,354 C89.63,350.38 90.23,347.47 90.9,344.3 C91.57,341.13 92.12,338.3 93,335 C93.88,331.7 95.12,327.17 96.2,324.5 C97.28,321.83 98.38,320.53 99.5,319 C100.62,317.47 101.82,316.17 102.9,315.3 C103.98,314.43 104.98,314.13 106,313.8 C107.02,313.47 107.83,313.27 109,313.3 C110.17,313.33 111.62,313.62 113,314 C114.38,314.38 114.97,314.72 117.3,315.6 C119.63,316.48 123.48,317.92 127,319.3 C130.52,320.68 134.57,322.02 138.4,323.9 C142.23,325.78 146.05,328.47 150,330.6 C153.95,332.73 158.08,334.55 162.1,336.7 C166.12,338.85 170.08,340.98 174.1,343.5 C178.12,346.02 182.17,349.03 186.2,351.8 C190.23,354.57 194.28,357.22 198.3,360.1 C202.32,362.98 205.65,365.97 210.3,369.1 C214.95,372.23 223.55,377.27 226.2,378.9" fill="none" stroke="#ff0000" stroke-width="0.9" stroke-linejoin="round"/>
<g fill="none" stroke="#000" stroke-width="1.25"><circle cx="80.6" cy="383.2" r="1.75"/><circle cx="81.5" cy="383.2" r="1.75"/><circle cx="82.6" cy="382" r="1.75"/><circle cx="83.8" cy="379.3" r="1.75"/><circle cx="85.1" cy="375.2" r="1.75"/><circle cx="86.3" cy="369.9" r="1.75"/><circle cx="87.5" cy="362.8" r="1.75"/><circle cx="89.2" cy="353.3" r="1.75"/><circle cx="91.3" cy="341.5" r="1.75"/><circle cx="94.2" cy="331.1" r="1.75"/><circle cx="98" cy="322.4" r="1.75"/><circle cx="102.5" cy="315.9" r="1.75"/><circle cx="108.5" cy="314.1" r="1.75"/><circle cx="115.8" cy="316.8" r="1.75"/><circle cx="125.6" cy="321.9" r="1.75"/><circle cx="137.4" cy="330.1" r="1.75"/><circle cx="150.3" cy="334.7" r="1.75"/><circle cx="162.1" cy="340.8" r="1.75"/><circle cx="174.1" cy="348.8" r="1.75"/><circle cx="186.2" cy="355.5" r="1.75"/><circle cx="198.3" cy="362.3" r="1.75"/><circle cx="210.3" cy="371.4" r="1.75"/><circle cx="227" cy="380.7" r="1.75"/></g>
<line x1="191.5" y1="317.8" x2="203.6" y2="317.8" stroke="#ff0000" stroke-width="1.15"/>
<g fill="none" stroke="#000" stroke-width="1.25"><circle cx="197.5" cy="328.8" r="1.75"/></g>
<text x="206.6" y="321.1" font-size="10.3" textLength="18" lengthAdjust="spacingAndGlyphs">DNS</text>
<text x="206.6" y="332" font-size="10.3" textLength="16" lengthAdjust="spacingAndGlyphs">REC</text>
<line x1="275.6" y1="309.5" x2="437.8" y2="309.5" stroke="#d8d8d8" stroke-width="1.2"/>
<line x1="275" y1="389" x2="437.8" y2="389" stroke="#2a2a2a" stroke-width="1.2"/>
<line x1="275.6" y1="309.5" x2="275.6" y2="389.6" stroke="#2a2a2a" stroke-width="1.2"/>
<line x1="272.3" y1="385.5" x2="275.6" y2="385.5" stroke="#2a2a2a" stroke-width="1.0"/>
<text x="271" y="391.55" font-size="14.2" text-anchor="end" textLength="7.42" lengthAdjust="spacingAndGlyphs">0</text>
<line x1="272.3" y1="368.5" x2="275.6" y2="368.5" stroke="#2a2a2a" stroke-width="1.0"/>
<text x="271" y="374.71" font-size="14.2" text-anchor="end" textLength="18.52" lengthAdjust="spacingAndGlyphs">0.2</text>
<line x1="272.3" y1="351.5" x2="275.6" y2="351.5" stroke="#2a2a2a" stroke-width="1.0"/>
<text x="271" y="357.87" font-size="14.2" text-anchor="end" textLength="18.52" lengthAdjust="spacingAndGlyphs">0.4</text>
<line x1="272.3" y1="334.5" x2="275.6" y2="334.5" stroke="#2a2a2a" stroke-width="1.0"/>
<text x="271" y="341.03" font-size="14.2" text-anchor="end" textLength="18.52" lengthAdjust="spacingAndGlyphs">0.6</text>
<line x1="272.3" y1="317.5" x2="275.6" y2="317.5" stroke="#2a2a2a" stroke-width="1.0"/>
<text x="271" y="324.19" font-size="14.2" text-anchor="end" textLength="18.52" lengthAdjust="spacingAndGlyphs">0.8</text>
<line x1="282.5" y1="389" x2="282.5" y2="391.6" stroke="#2a2a2a" stroke-width="1.0"/>
<text x="282.5" y="405" font-size="14.2" text-anchor="middle" textLength="7.42" lengthAdjust="spacingAndGlyphs">0</text>
<line x1="311.5" y1="389" x2="311.5" y2="391.6" stroke="#2a2a2a" stroke-width="1.0"/>
<text x="311.97" y="405" font-size="14.2" text-anchor="middle" textLength="22.25" lengthAdjust="spacingAndGlyphs">100</text>
<line x1="341.5" y1="389" x2="341.5" y2="391.6" stroke="#2a2a2a" stroke-width="1.0"/>
<text x="341.44" y="405" font-size="14.2" text-anchor="middle" textLength="22.25" lengthAdjust="spacingAndGlyphs">200</text>
<line x1="370.5" y1="389" x2="370.5" y2="391.6" stroke="#2a2a2a" stroke-width="1.0"/>
<text x="370.91" y="405" font-size="14.2" text-anchor="middle" textLength="22.25" lengthAdjust="spacingAndGlyphs">300</text>
<line x1="400.5" y1="389" x2="400.5" y2="391.6" stroke="#2a2a2a" stroke-width="1.0"/>
<text x="400.38" y="405" font-size="14.2" text-anchor="middle" textLength="22.25" lengthAdjust="spacingAndGlyphs">400</text>
<line x1="429.5" y1="389" x2="429.5" y2="391.6" stroke="#2a2a2a" stroke-width="1.0"/>
<text x="429.85" y="405" font-size="14.2" text-anchor="middle" textLength="22.25" lengthAdjust="spacingAndGlyphs">500</text>
<path d="M283.5,384 C283.67,382.5 284.17,378.67 284.5,375 C284.83,371.33 285.23,366.12 285.5,362 C285.77,357.88 285.82,354.3 286.1,350.3 C286.38,346.3 286.83,341.78 287.2,338 C287.57,334.22 287.92,330.6 288.3,327.6 C288.68,324.6 289.12,321.88 289.5,320 C289.88,318.12 290.03,317.55 290.6,316.3 C291.17,315.05 292.02,313.25 292.9,312.5 C293.78,311.75 294.72,311.63 295.9,311.8 C297.08,311.97 298.62,312.87 300,313.5 C301.38,314.13 301.48,314.5 304.2,315.6 C306.92,316.7 312.28,318.35 316.3,320.1 C320.32,321.85 324.28,323.97 328.3,326.1 C332.32,328.23 336.37,330.75 340.4,332.9 C344.43,335.05 348.47,336.87 352.5,339 C356.53,341.13 360.52,343.5 364.6,345.7 C368.68,347.9 372.85,350.05 377,352.2 C381.15,354.35 385.33,356.47 389.5,358.6 C393.67,360.73 397.87,362.87 402,365 C406.13,367.13 409.53,368.95 414.3,371.4 C419.07,373.85 427.88,378.32 430.6,379.7" fill="none" stroke="#ff0000" stroke-width="0.9" stroke-linejoin="round"/>
<g fill="none" stroke="#000" stroke-width="1.25"><circle cx="283.1" cy="385" r="1.75"/><circle cx="284.3" cy="381.7" r="1.75"/><circle cx="285.5" cy="367.7" r="1.75"/><circle cx="286.5" cy="351" r="1.75"/><circle cx="287.7" cy="339" r="1.75"/><circle cx="288.8" cy="329.9" r="1.75"/><circle cx="290" cy="324.2" r="1.75"/><circle cx="291.5" cy="318.3" r="1.75"/><circle cx="293.9" cy="316.8" r="1.75"/><circle cx="296.6" cy="316.3" r="1.75"/><circle cx="300.4" cy="319" r="1.75"/><circle cx="304.9" cy="320.1" r="1.75"/><circle cx="311" cy="322.1" r="1.75"/><circle cx="318.5" cy="323.6" r="1.75"/><circle cx="328.3" cy="329.6" r="1.75"/><circle cx="340.4" cy="334.4" r="1.75"/><circle cx="352.5" cy="343.5" r="1.75"/><circle cx="364.9" cy="348" r="1.75"/><circle cx="377.1" cy="356" r="1.75"/><circle cx="389.5" cy="360.8" r="1.75"/><circle cx="401.8" cy="367.6" r="1.75"/><circle cx="414" cy="372.9" r="1.75"/><circle cx="430.6" cy="381.9" r="1.75"/></g>
<line x1="394" y1="319.8" x2="406.5" y2="319.8" stroke="#ff0000" stroke-width="1.15"/>
<g fill="none" stroke="#000" stroke-width="1.25"><circle cx="400.3" cy="331.1" r="1.75"/></g>
<text x="409.5" y="323.1" font-size="10.3" textLength="18" lengthAdjust="spacingAndGlyphs">DNS</text>
<text x="409.5" y="334.3" font-size="10.3" textLength="16" lengthAdjust="spacingAndGlyphs">REC</text>
<line x1="233.4" y1="437.9" x2="233.4" y2="516.1" stroke="#2a2a2a" stroke-width="1.2"/>
<line x1="72.8" y1="516.1" x2="233.4" y2="516.1" stroke="#2a2a2a" stroke-width="1.2"/>
<line x1="73.4" y1="437.9" x2="73.4" y2="516.7" stroke="#2a2a2a" stroke-width="1.2"/>
<line x1="73.4" y1="437.9" x2="233.4" y2="437.9" stroke="#bdbdbd" stroke-width="1.6"/>
<line x1="70.1" y1="505.5" x2="73.4" y2="505.5" stroke="#2a2a2a" stroke-width="1.0"/>
<text x="67.6" y="511.85" font-size="14.2" text-anchor="end" textLength="25.93" lengthAdjust="spacingAndGlyphs">0.04</text>
<line x1="70.1" y1="484.5" x2="73.4" y2="484.5" stroke="#2a2a2a" stroke-width="1.0"/>
<text x="67.6" y="491.37" font-size="14.2" text-anchor="end" textLength="25.93" lengthAdjust="spacingAndGlyphs">0.08</text>
<line x1="70.1" y1="464.5" x2="73.4" y2="464.5" stroke="#2a2a2a" stroke-width="1.0"/>
<text x="67.6" y="470.89" font-size="14.2" text-anchor="end" textLength="25.93" lengthAdjust="spacingAndGlyphs">0.12</text>
<line x1="70.1" y1="443.5" x2="73.4" y2="443.5" stroke="#2a2a2a" stroke-width="1.0"/>
<text x="67.6" y="450.41" font-size="14.2" text-anchor="end" textLength="25.93" lengthAdjust="spacingAndGlyphs">0.16</text>
<line x1="79.5" y1="516.1" x2="79.5" y2="518.7" stroke="#2a2a2a" stroke-width="1.0"/>
<text x="79.5" y="532.1" font-size="14.2" text-anchor="middle" textLength="7.42" lengthAdjust="spacingAndGlyphs">0</text>
<line x1="99.5" y1="516.1" x2="99.5" y2="518.7" stroke="#2a2a2a" stroke-width="1.0"/>
<line x1="119.5" y1="516.1" x2="119.5" y2="518.7" stroke="#2a2a2a" stroke-width="1.0"/>
<text x="119.4" y="532.1" font-size="14.2" text-anchor="middle" textLength="14.83" lengthAdjust="spacingAndGlyphs">50</text>
<line x1="139.5" y1="516.1" x2="139.5" y2="518.7" stroke="#2a2a2a" stroke-width="1.0"/>
<line x1="159.5" y1="516.1" x2="159.5" y2="518.7" stroke="#2a2a2a" stroke-width="1.0"/>
<text x="159.3" y="532.1" font-size="14.2" text-anchor="middle" textLength="22.25" lengthAdjust="spacingAndGlyphs">100</text>
<line x1="179.5" y1="516.1" x2="179.5" y2="518.7" stroke="#2a2a2a" stroke-width="1.0"/>
<line x1="199.5" y1="516.1" x2="199.5" y2="518.7" stroke="#2a2a2a" stroke-width="1.0"/>
<text x="199.2" y="532.1" font-size="14.2" text-anchor="middle" textLength="22.25" lengthAdjust="spacingAndGlyphs">150</text>
<line x1="219.5" y1="516.1" x2="219.5" y2="518.7" stroke="#2a2a2a" stroke-width="1.0"/>
<path d="M80.3,449.3 C80.55,451.45 81.22,457.98 81.8,462.2 C82.38,466.42 83.05,473.6 83.8,474.6 C84.55,475.6 85.37,470.02 86.3,468.2 C87.23,466.38 88.27,464.83 89.4,463.7 C90.53,462.57 91.85,461.53 93.1,461.4 C94.35,461.27 95.38,462.13 96.9,462.9 C98.42,463.67 100.43,464.73 102.2,466 C103.97,467.27 105.23,468.62 107.5,470.5 C109.77,472.38 112.92,475.03 115.8,477.3 C118.68,479.57 121.28,482.05 124.8,484.1 C128.32,486.15 132.7,487.98 136.9,489.6 C141.1,491.22 145.8,492.47 150,493.8 C154.2,495.13 158.08,496.33 162.1,497.6 C166.12,498.87 170.08,500.32 174.1,501.4 C178.12,502.48 182.17,503.3 186.2,504.1 C190.23,504.9 194.28,505.47 198.3,506.2 C202.32,506.93 205.65,507.72 210.3,508.5 C214.95,509.28 223.55,510.5 226.2,510.9" fill="none" stroke="#ff0000" stroke-width="0.9" stroke-linejoin="round"/>
<g fill="none" stroke="#000" stroke-width="1.25"><circle cx="80.8" cy="448.9" r="1.75"/><circle cx="81.8" cy="457.2" r="1.75"/><circle cx="82.6" cy="466" r="1.75"/><circle cx="83.8" cy="471.2" r="1.75"/><circle cx="84.8" cy="467.5" r="1.75"/><circle cx="86.3" cy="464.9" r="1.75"/><circle cx="88.3" cy="466" r="1.75"/><circle cx="90.1" cy="463.4" r="1.75"/><circle cx="93.1" cy="461" r="1.75"/><circle cx="96.6" cy="463.4" r="1.75"/><circle cx="101.1" cy="465.2" r="1.75"/><circle cx="107.2" cy="471.2" r="1.75"/><circle cx="115" cy="478.3" r="1.75"/><circle cx="124.5" cy="485.9" r="1.75"/><circle cx="136.6" cy="492.8" r="1.75"/><circle cx="149" cy="496.1" r="1.75"/><circle cx="160.9" cy="499.9" r="1.75"/><circle cx="173.1" cy="503.3" r="1.75"/><circle cx="185.5" cy="505.6" r="1.75"/><circle cx="197.8" cy="507.7" r="1.75"/><circle cx="209.9" cy="510" r="1.75"/><circle cx="226.2" cy="513" r="1.75"/></g>
<line x1="192.5" y1="446.8" x2="204.3" y2="446.8" stroke="#ff0000" stroke-width="1.15"/>
<g fill="none" stroke="#000" stroke-width="1.25"><circle cx="198.3" cy="458.1" r="1.75"/></g>
<text x="207.3" y="450.1" font-size="10.3" textLength="18" lengthAdjust="spacingAndGlyphs">DNS</text>
<text x="207.3" y="461.3" font-size="10.3" textLength="16" lengthAdjust="spacingAndGlyphs">REC</text>
<line x1="435.5" y1="438.5" x2="435.5" y2="516.1" stroke="#c8c8c8" stroke-width="1.2"/>
<line x1="275" y1="516.1" x2="435.5" y2="516.1" stroke="#2a2a2a" stroke-width="1.2"/>
<line x1="275.6" y1="438.5" x2="275.6" y2="516.7" stroke="#2a2a2a" stroke-width="1.2"/>
<line x1="272.3" y1="516.5" x2="275.6" y2="516.5" stroke="#2a2a2a" stroke-width="1.0"/>
<text x="270.3" y="522.8" font-size="14.2" text-anchor="end" textLength="7.42" lengthAdjust="spacingAndGlyphs">0</text>
<line x1="272.3" y1="503.5" x2="275.6" y2="503.5" stroke="#2a2a2a" stroke-width="1.0"/>
<line x1="272.3" y1="490.5" x2="275.6" y2="490.5" stroke="#2a2a2a" stroke-width="1.0"/>
<text x="270.3" y="497.6" font-size="14.2" text-anchor="end" textLength="25.93" lengthAdjust="spacingAndGlyphs">0.08</text>
<line x1="272.3" y1="478.5" x2="275.6" y2="478.5" stroke="#2a2a2a" stroke-width="1.0"/>
<line x1="272.3" y1="465.5" x2="275.6" y2="465.5" stroke="#2a2a2a" stroke-width="1.0"/>
<text x="270.3" y="472.4" font-size="14.2" text-anchor="end" textLength="25.93" lengthAdjust="spacingAndGlyphs">0.16</text>
<line x1="272.3" y1="453.5" x2="275.6" y2="453.5" stroke="#2a2a2a" stroke-width="1.0"/>
<line x1="272.3" y1="440.5" x2="275.6" y2="440.5" stroke="#2a2a2a" stroke-width="1.0"/>
<text x="270.3" y="447.2" font-size="14.2" text-anchor="end" textLength="25.93" lengthAdjust="spacingAndGlyphs">0.24</text>
<line x1="282.5" y1="516.1" x2="282.5" y2="518.7" stroke="#2a2a2a" stroke-width="1.0"/>
<text x="282.4" y="532.3" font-size="14.2" text-anchor="middle" textLength="7.42" lengthAdjust="spacingAndGlyphs">0</text>
<line x1="311.5" y1="516.1" x2="311.5" y2="518.7" stroke="#2a2a2a" stroke-width="1.0"/>
<text x="311.4" y="532.3" font-size="14.2" text-anchor="middle" textLength="22.25" lengthAdjust="spacingAndGlyphs">100</text>
<line x1="340.5" y1="516.1" x2="340.5" y2="518.7" stroke="#2a2a2a" stroke-width="1.0"/>
<text x="340.4" y="532.3" font-size="14.2" text-anchor="middle" textLength="22.25" lengthAdjust="spacingAndGlyphs">200</text>
<line x1="369.5" y1="516.1" x2="369.5" y2="518.7" stroke="#2a2a2a" stroke-width="1.0"/>
<text x="369.4" y="532.3" font-size="14.2" text-anchor="middle" textLength="22.25" lengthAdjust="spacingAndGlyphs">300</text>
<line x1="398.5" y1="516.1" x2="398.5" y2="518.7" stroke="#2a2a2a" stroke-width="1.0"/>
<text x="398.4" y="532.3" font-size="14.2" text-anchor="middle" textLength="22.25" lengthAdjust="spacingAndGlyphs">400</text>
<line x1="427.5" y1="516.1" x2="427.5" y2="518.7" stroke="#2a2a2a" stroke-width="1.0"/>
<text x="427.4" y="532.3" font-size="14.2" text-anchor="middle" textLength="22.25" lengthAdjust="spacingAndGlyphs">500</text>
<path d="M282.3,443.8 C282.43,446.1 282.85,453.03 283.1,457.6 C283.35,462.17 283.5,468.17 283.8,471.2 C284.1,474.23 284.32,475.92 284.9,475.8 C285.48,475.68 286.35,470.38 287.3,470.5 C288.25,470.62 289.3,473.98 290.6,476.5 C291.9,479.02 293.33,482.83 295.1,485.6 C296.87,488.37 298.93,490.97 301.2,493.1 C303.47,495.23 305.93,496.88 308.7,498.4 C311.47,499.92 314.53,501.2 317.8,502.2 C321.07,503.2 324.53,503.77 328.3,504.4 C332.07,505.03 336.12,505.58 340.4,506 C344.68,506.42 345.73,506.38 354,506.9 C362.27,507.42 377.63,508.32 390,509.1 C402.37,509.88 421.83,511.18 428.2,511.6" fill="none" stroke="#ff0000" stroke-width="0.9" stroke-linejoin="round"/>
<g fill="none" stroke="#000" stroke-width="1.25"><circle cx="282.6" cy="457.2" r="1.75"/><circle cx="283.8" cy="467.9" r="1.75"/><circle cx="284.9" cy="478.5" r="1.75"/><circle cx="285.8" cy="475.8" r="1.75"/><circle cx="286.8" cy="474.3" r="1.75"/><circle cx="288" cy="473.5" r="1.75"/><circle cx="289.4" cy="475.8" r="1.75"/><circle cx="290.9" cy="481" r="1.75"/><circle cx="292.9" cy="484.8" r="1.75"/><circle cx="295.9" cy="488.9" r="1.75"/><circle cx="299.7" cy="493.6" r="1.75"/><circle cx="304.2" cy="496.9" r="1.75"/><circle cx="310.2" cy="500.4" r="1.75"/><circle cx="317.8" cy="503.2" r="1.75"/><circle cx="327.1" cy="505.5" r="1.75"/><circle cx="339.2" cy="507" r="1.75"/><circle cx="351.3" cy="508.2" r="1.75"/><circle cx="363.8" cy="508.6" r="1.75"/><circle cx="375.9" cy="509.2" r="1.75"/><circle cx="387.9" cy="509.7" r="1.75"/><circle cx="400" cy="510.4" r="1.75"/><circle cx="412.1" cy="511.2" r="1.75"/><circle cx="428.2" cy="512.2" r="1.75"/></g>
<line x1="391" y1="446.3" x2="403" y2="446.3" stroke="#ff0000" stroke-width="1.15"/>
<g fill="none" stroke="#000" stroke-width="1.25"><circle cx="397" cy="457.6" r="1.75"/></g>
<text x="406" y="449.6" font-size="10.3" textLength="18" lengthAdjust="spacingAndGlyphs">DNS</text>
<text x="406" y="460.8" font-size="10.3" textLength="16" lengthAdjust="spacingAndGlyphs">REC</text>
<line x1="521" y1="47.6" x2="681.2" y2="47.6" stroke="#d8d8d8" stroke-width="1.2"/>
<line x1="681.2" y1="47.6" x2="681.2" y2="126.1" stroke="#c8c8c8" stroke-width="1.2"/>
<line x1="520.4" y1="126.1" x2="681.2" y2="126.1" stroke="#2a2a2a" stroke-width="1.2"/>
<line x1="521" y1="47.6" x2="521" y2="126.7" stroke="#2a2a2a" stroke-width="1.2"/>
<line x1="517.7" y1="126.5" x2="521" y2="126.5" stroke="#2a2a2a" stroke-width="1.0"/>
<text x="515.2" y="131.35" font-size="14.2" text-anchor="end" textLength="7.42" lengthAdjust="spacingAndGlyphs">0</text>
<line x1="517.7" y1="107.5" x2="521" y2="107.5" stroke="#2a2a2a" stroke-width="1.0"/>
<text x="515.2" y="113.13" font-size="14.2" text-anchor="end" textLength="18.52" lengthAdjust="spacingAndGlyphs">0.2</text>
<line x1="517.7" y1="89.5" x2="521" y2="89.5" stroke="#2a2a2a" stroke-width="1.0"/>
<text x="515.2" y="94.91" font-size="14.2" text-anchor="end" textLength="18.52" lengthAdjust="spacingAndGlyphs">0.4</text>
<line x1="517.7" y1="71.5" x2="521" y2="71.5" stroke="#2a2a2a" stroke-width="1.0"/>
<text x="515.2" y="76.69" font-size="14.2" text-anchor="end" textLength="18.52" lengthAdjust="spacingAndGlyphs">0.6</text>
<line x1="517.7" y1="53.5" x2="521" y2="53.5" stroke="#2a2a2a" stroke-width="1.0"/>
<text x="515.2" y="58.47" font-size="14.2" text-anchor="end" textLength="18.52" lengthAdjust="spacingAndGlyphs">0.8</text>
<line x1="528.5" y1="126.1" x2="528.5" y2="128.7" stroke="#2a2a2a" stroke-width="1.0"/>
<text x="528.4" y="141.3" font-size="14.2" text-anchor="middle" textLength="7.42" lengthAdjust="spacingAndGlyphs">1</text>
<line x1="549.5" y1="126.1" x2="549.5" y2="128.7" stroke="#2a2a2a" stroke-width="1.0"/>
<text x="549.3" y="141.3" font-size="14.2" text-anchor="middle" textLength="7.42" lengthAdjust="spacingAndGlyphs">2</text>
<line x1="570.5" y1="126.1" x2="570.5" y2="128.7" stroke="#2a2a2a" stroke-width="1.0"/>
<text x="570.2" y="141.3" font-size="14.2" text-anchor="middle" textLength="7.42" lengthAdjust="spacingAndGlyphs">3</text>
<line x1="591.5" y1="126.1" x2="591.5" y2="128.7" stroke="#2a2a2a" stroke-width="1.0"/>
<text x="591.1" y="141.3" font-size="14.2" text-anchor="middle" textLength="7.42" lengthAdjust="spacingAndGlyphs">4</text>
<line x1="612.5" y1="126.1" x2="612.5" y2="128.7" stroke="#2a2a2a" stroke-width="1.0"/>
<text x="612" y="141.3" font-size="14.2" text-anchor="middle" textLength="7.42" lengthAdjust="spacingAndGlyphs">5</text>
<line x1="632.5" y1="126.1" x2="632.5" y2="128.7" stroke="#2a2a2a" stroke-width="1.0"/>
<text x="632.9" y="141.3" font-size="14.2" text-anchor="middle" textLength="7.42" lengthAdjust="spacingAndGlyphs">6</text>
<line x1="653.5" y1="126.1" x2="653.5" y2="128.7" stroke="#2a2a2a" stroke-width="1.0"/>
<text x="653.8" y="141.3" font-size="14.2" text-anchor="middle" textLength="7.42" lengthAdjust="spacingAndGlyphs">7</text>
<line x1="674.5" y1="126.1" x2="674.5" y2="128.7" stroke="#2a2a2a" stroke-width="1.0"/>
<text x="674.7" y="141.3" font-size="14.2" text-anchor="middle" textLength="7.42" lengthAdjust="spacingAndGlyphs">8</text>
<path d="M528.3,121.5 C530.25,121 536.22,119.57 540,118.5 C543.78,117.43 548.33,116.18 551,115.1 C553.67,114.02 554.47,112.8 556,112 C557.53,111.2 558.65,110.27 560.2,110.3 C561.75,110.33 563.67,111.17 565.3,112.2 C566.93,113.23 568.53,115.22 570,116.5 C571.47,117.78 572.7,119.28 574.1,119.9 C575.5,120.52 576.93,120.6 578.4,120.2 C579.87,119.8 580.82,118.88 582.9,117.5 C584.98,116.12 588.38,113.63 590.9,111.9 C593.42,110.17 595.22,109.37 598,107.1 C600.78,104.83 604.4,101.63 607.6,98.3 C610.8,94.97 614.4,90.43 617.2,87.1 C620,83.77 621.75,81.22 624.4,78.3 C627.05,75.38 630.05,72.32 633.1,69.6 C636.15,66.88 639.5,64.05 642.7,62 C645.9,59.95 649.1,58.48 652.3,57.3 C655.5,56.12 658.17,55.92 661.9,54.9 C665.63,53.88 672.57,51.82 674.7,51.2" fill="none" stroke="#ff0000" stroke-width="0.9" stroke-linejoin="round"/>
<g fill="none" stroke="#000" stroke-width="1.25"><circle cx="528.3" cy="122.6" r="1.75"/><circle cx="532.9" cy="120.7" r="1.75"/><circle cx="537.4" cy="119.6" r="1.75"/><circle cx="542.2" cy="118.8" r="1.75"/><circle cx="546.5" cy="118" r="1.75"/><circle cx="551" cy="115.9" r="1.75"/><circle cx="555.7" cy="112.9" r="1.75"/><circle cx="560.2" cy="111.3" r="1.75"/><circle cx="564.9" cy="112.4" r="1.75"/><circle cx="569.3" cy="117.5" r="1.75"/><circle cx="573.8" cy="121" r="1.75"/><circle cx="578.4" cy="120.7" r="1.75"/><circle cx="582.9" cy="119.1" r="1.75"/><circle cx="587.7" cy="118" r="1.75"/><circle cx="592.2" cy="114.8" r="1.75"/><circle cx="596.8" cy="111.4" r="1.75"/><circle cx="601.2" cy="106.8" r="1.75"/><circle cx="605.7" cy="102" r="1.75"/><circle cx="610.3" cy="98.8" r="1.75"/><circle cx="614.8" cy="91.9" r="1.75"/><circle cx="619.6" cy="87.1" r="1.75"/><circle cx="624" cy="79.5" r="1.75"/><circle cx="628.7" cy="74.4" r="1.75"/><circle cx="633.1" cy="68.8" r="1.75"/><circle cx="637.6" cy="64.8" r="1.75"/><circle cx="642.4" cy="61.6" r="1.75"/><circle cx="647" cy="59.7" r="1.75"/><circle cx="651.5" cy="57.6" r="1.75"/><circle cx="656" cy="56.5" r="1.75"/><circle cx="660.6" cy="55.7" r="1.75"/><circle cx="665.1" cy="53.6" r="1.75"/><circle cx="669.9" cy="52.3" r="1.75"/><circle cx="674.4" cy="51.5" r="1.75"/></g>
<line x1="638.2" y1="106" x2="650.6" y2="106" stroke="#ff0000" stroke-width="1.15"/>
<g fill="none" stroke="#000" stroke-width="1.25"><circle cx="644" cy="117.2" r="1.75"/></g>
<text x="653.2" y="109.3" font-size="10.3" textLength="18" lengthAdjust="spacingAndGlyphs">DNS</text>
<text x="653.2" y="120.4" font-size="10.3" textLength="16" lengthAdjust="spacingAndGlyphs">REC</text>
<line x1="521.4" y1="181.3" x2="681.3" y2="181.3" stroke="#e0e0e0" stroke-width="1.2"/>
<line x1="681.3" y1="181.3" x2="681.3" y2="259.1" stroke="#c8c8c8" stroke-width="1.2"/>
<line x1="520.8" y1="259.1" x2="681.3" y2="259.1" stroke="#2a2a2a" stroke-width="1.2"/>
<line x1="521.4" y1="181.3" x2="521.4" y2="259.7" stroke="#2a2a2a" stroke-width="1.2"/>
<line x1="518.1" y1="246.5" x2="521.4" y2="246.5" stroke="#2a2a2a" stroke-width="1.0"/>
<text x="515.6" y="252.99" font-size="14.2" text-anchor="end" textLength="22.99" lengthAdjust="spacingAndGlyphs">-0.2</text>
<line x1="518.1" y1="231.5" x2="521.4" y2="231.5" stroke="#2a2a2a" stroke-width="1.0"/>
<text x="515.6" y="237.65" font-size="14.2" text-anchor="end" textLength="7.42" lengthAdjust="spacingAndGlyphs">0</text>
<line x1="518.1" y1="216.5" x2="521.4" y2="216.5" stroke="#2a2a2a" stroke-width="1.0"/>
<text x="515.6" y="222.31" font-size="14.2" text-anchor="end" textLength="18.52" lengthAdjust="spacingAndGlyphs">0.2</text>
<line x1="518.1" y1="200.5" x2="521.4" y2="200.5" stroke="#2a2a2a" stroke-width="1.0"/>
<text x="515.6" y="206.97" font-size="14.2" text-anchor="end" textLength="18.52" lengthAdjust="spacingAndGlyphs">0.4</text>
<line x1="518.1" y1="185.5" x2="521.4" y2="185.5" stroke="#2a2a2a" stroke-width="1.0"/>
<text x="515.6" y="191.63" font-size="14.2" text-anchor="end" textLength="18.52" lengthAdjust="spacingAndGlyphs">0.6</text>
<line x1="528.5" y1="259.1" x2="528.5" y2="261.7" stroke="#2a2a2a" stroke-width="1.0"/>
<text x="528.4" y="274.7" font-size="14.2" text-anchor="middle" textLength="7.42" lengthAdjust="spacingAndGlyphs">1</text>
<line x1="549.5" y1="259.1" x2="549.5" y2="261.7" stroke="#2a2a2a" stroke-width="1.0"/>
<text x="549.3" y="274.7" font-size="14.2" text-anchor="middle" textLength="7.42" lengthAdjust="spacingAndGlyphs">2</text>
<line x1="570.5" y1="259.1" x2="570.5" y2="261.7" stroke="#2a2a2a" stroke-width="1.0"/>
<text x="570.2" y="274.7" font-size="14.2" text-anchor="middle" textLength="7.42" lengthAdjust="spacingAndGlyphs">3</text>
<line x1="591.5" y1="259.1" x2="591.5" y2="261.7" stroke="#2a2a2a" stroke-width="1.0"/>
<text x="591.1" y="274.7" font-size="14.2" text-anchor="middle" textLength="7.42" lengthAdjust="spacingAndGlyphs">4</text>
<line x1="612.5" y1="259.1" x2="612.5" y2="261.7" stroke="#2a2a2a" stroke-width="1.0"/>
<text x="612" y="274.7" font-size="14.2" text-anchor="middle" textLength="7.42" lengthAdjust="spacingAndGlyphs">5</text>
<line x1="632.5" y1="259.1" x2="632.5" y2="261.7" stroke="#2a2a2a" stroke-width="1.0"/>
<text x="632.9" y="274.7" font-size="14.2" text-anchor="middle" textLength="7.42" lengthAdjust="spacingAndGlyphs">6</text>
<line x1="653.5" y1="259.1" x2="653.5" y2="261.7" stroke="#2a2a2a" stroke-width="1.0"/>
<text x="653.8" y="274.7" font-size="14.2" text-anchor="middle" textLength="7.42" lengthAdjust="spacingAndGlyphs">7</text>
<line x1="674.5" y1="259.1" x2="674.5" y2="261.7" stroke="#2a2a2a" stroke-width="1.0"/>
<text x="674.7" y="274.7" font-size="14.2" text-anchor="middle" textLength="7.42" lengthAdjust="spacingAndGlyphs">8</text>
<path d="M528.3,239.9 C531.9,241.07 544.28,245.13 549.9,246.9 C555.52,248.67 558.13,249.47 562,250.5 C565.87,251.53 569.77,253.02 573.1,253.1 C576.43,253.18 578.92,251.92 582,251 C585.08,250.08 588.93,248.85 591.6,247.6 C594.27,246.35 595.93,245.17 598,243.5 C600.07,241.83 601.42,240.13 604,237.6 C606.58,235.07 610.12,231.47 613.5,228.3 C616.88,225.13 620.97,222.02 624.3,218.6 C627.63,215.18 630.15,211.2 633.5,207.8 C636.85,204.4 640.53,200.88 644.4,198.2 C648.27,195.52 653.1,193.47 656.7,191.7 C660.3,189.93 663.03,188.83 666,187.6 C668.97,186.37 673.08,184.85 674.5,184.3" fill="none" stroke="#ff0000" stroke-width="0.9" stroke-linejoin="round"/>
<g fill="none" stroke="#000" stroke-width="1.25"><circle cx="528.3" cy="240.4" r="1.75"/><circle cx="532.9" cy="241.9" r="1.75"/><circle cx="537.5" cy="243.5" r="1.75"/><circle cx="541.9" cy="245.8" r="1.75"/><circle cx="546.5" cy="246.6" r="1.75"/><circle cx="551.1" cy="248.4" r="1.75"/><circle cx="555.8" cy="250.4" r="1.75"/><circle cx="560.4" cy="252.7" r="1.75"/><circle cx="564.9" cy="254.3" r="1.75"/><circle cx="569.5" cy="255.7" r="1.75"/><circle cx="573.9" cy="255.7" r="1.75"/><circle cx="578.5" cy="254.1" r="1.75"/><circle cx="583.1" cy="252.3" r="1.75"/><circle cx="587.8" cy="250.4" r="1.75"/><circle cx="592.4" cy="248.4" r="1.75"/><circle cx="597.1" cy="244.6" r="1.75"/><circle cx="601.4" cy="239.8" r="1.75"/><circle cx="605.7" cy="236.8" r="1.75"/><circle cx="610.4" cy="231.7" r="1.75"/><circle cx="615" cy="227.6" r="1.75"/><circle cx="619.6" cy="223.4" r="1.75"/><circle cx="624.3" cy="219" r="1.75"/><circle cx="628.9" cy="215.5" r="1.75"/><circle cx="633.5" cy="212.1" r="1.75"/><circle cx="637.9" cy="207.9" r="1.75"/><circle cx="642.5" cy="204.1" r="1.75"/><circle cx="647.1" cy="201" r="1.75"/><circle cx="651.6" cy="196.6" r="1.75"/><circle cx="656.3" cy="194.8" r="1.75"/><circle cx="660.9" cy="192.5" r="1.75"/><circle cx="665.2" cy="190.9" r="1.75"/><circle cx="669.9" cy="188.1" r="1.75"/><circle cx="674.5" cy="186.3" r="1.75"/></g>
<line x1="635.1" y1="238.9" x2="647" y2="238.9" stroke="#ff0000" stroke-width="1.15"/>
<g fill="none" stroke="#000" stroke-width="1.25"><circle cx="640.8" cy="250.4" r="1.75"/></g>
<text x="650" y="242.2" font-size="10.3" textLength="18" lengthAdjust="spacingAndGlyphs">DNS</text>
<text x="650" y="253.6" font-size="10.3" textLength="16" lengthAdjust="spacingAndGlyphs">REC</text>
<line x1="521.6" y1="310.1" x2="681.6" y2="310.1" stroke="#d0d0d0" stroke-width="1.2"/>
<line x1="681.6" y1="310.1" x2="681.6" y2="388.3" stroke="#c8c8c8" stroke-width="1.2"/>
<line x1="521" y1="388.3" x2="681.6" y2="388.3" stroke="#2a2a2a" stroke-width="1.2"/>
<line x1="521.6" y1="310.1" x2="521.6" y2="388.9" stroke="#2a2a2a" stroke-width="1.2"/>
<line x1="518.3" y1="383.5" x2="521.6" y2="383.5" stroke="#2a2a2a" stroke-width="1.0"/>
<text x="515.8" y="388.6" font-size="14.2" text-anchor="end" textLength="7.42" lengthAdjust="spacingAndGlyphs">0</text>
<line x1="518.3" y1="370.5" x2="521.6" y2="370.5" stroke="#2a2a2a" stroke-width="1.0"/>
<text x="515.8" y="375.2" font-size="14.2" text-anchor="end" textLength="18.52" lengthAdjust="spacingAndGlyphs">0.2</text>
<line x1="518.3" y1="356.5" x2="521.6" y2="356.5" stroke="#2a2a2a" stroke-width="1.0"/>
<text x="515.8" y="361.8" font-size="14.2" text-anchor="end" textLength="18.52" lengthAdjust="spacingAndGlyphs">0.4</text>
<line x1="518.3" y1="343.5" x2="521.6" y2="343.5" stroke="#2a2a2a" stroke-width="1.0"/>
<text x="515.8" y="348.4" font-size="14.2" text-anchor="end" textLength="18.52" lengthAdjust="spacingAndGlyphs">0.6</text>
<line x1="518.3" y1="329.5" x2="521.6" y2="329.5" stroke="#2a2a2a" stroke-width="1.0"/>
<text x="515.8" y="335" font-size="14.2" text-anchor="end" textLength="18.52" lengthAdjust="spacingAndGlyphs">0.8</text>
<line x1="518.3" y1="316.5" x2="521.6" y2="316.5" stroke="#2a2a2a" stroke-width="1.0"/>
<text x="515.8" y="321.6" font-size="14.2" text-anchor="end" textLength="18.52" lengthAdjust="spacingAndGlyphs">1.0</text>
<line x1="523.5" y1="388.3" x2="523.5" y2="390.9" stroke="#2a2a2a" stroke-width="1.0"/>
<text x="523.2" y="403.8" font-size="14.2" text-anchor="middle" textLength="11.89" lengthAdjust="spacingAndGlyphs">-4</text>
<line x1="542.5" y1="388.3" x2="542.5" y2="390.9" stroke="#2a2a2a" stroke-width="1.0"/>
<text x="542.7" y="403.8" font-size="14.2" text-anchor="middle" textLength="11.89" lengthAdjust="spacingAndGlyphs">-3</text>
<line x1="562.5" y1="388.3" x2="562.5" y2="390.9" stroke="#2a2a2a" stroke-width="1.0"/>
<text x="562.2" y="403.8" font-size="14.2" text-anchor="middle" textLength="11.89" lengthAdjust="spacingAndGlyphs">-2</text>
<line x1="581.5" y1="388.3" x2="581.5" y2="390.9" stroke="#2a2a2a" stroke-width="1.0"/>
<text x="581.7" y="403.8" font-size="14.2" text-anchor="middle" textLength="11.89" lengthAdjust="spacingAndGlyphs">-1</text>
<line x1="601.5" y1="388.3" x2="601.5" y2="390.9" stroke="#2a2a2a" stroke-width="1.0"/>
<text x="601.2" y="403.8" font-size="14.2" text-anchor="middle" textLength="7.42" lengthAdjust="spacingAndGlyphs">0</text>
<line x1="620.5" y1="388.3" x2="620.5" y2="390.9" stroke="#2a2a2a" stroke-width="1.0"/>
<text x="620.7" y="403.8" font-size="14.2" text-anchor="middle" textLength="7.42" lengthAdjust="spacingAndGlyphs">1</text>
<line x1="640.5" y1="388.3" x2="640.5" y2="390.9" stroke="#2a2a2a" stroke-width="1.0"/>
<text x="640.2" y="403.8" font-size="14.2" text-anchor="middle" textLength="7.42" lengthAdjust="spacingAndGlyphs">2</text>
<line x1="659.5" y1="388.3" x2="659.5" y2="390.9" stroke="#2a2a2a" stroke-width="1.0"/>
<text x="659.7" y="403.8" font-size="14.2" text-anchor="middle" textLength="7.42" lengthAdjust="spacingAndGlyphs">3</text>
<line x1="679.5" y1="388.3" x2="679.5" y2="390.9" stroke="#2a2a2a" stroke-width="1.0"/>
<text x="679.2" y="403.8" font-size="14.2" text-anchor="middle" textLength="7.42" lengthAdjust="spacingAndGlyphs">4</text>
<path d="M528.3,313.6 C534.48,313.58 558.62,313.35 565.4,313.5 C572.18,313.65 567.72,313.85 569,314.5 C570.28,315.15 571.77,315.38 573.1,317.4 C574.43,319.42 575.72,322.75 577,326.6 C578.28,330.45 579.65,335.85 580.8,340.5 C581.95,345.15 582.73,350.12 583.9,354.5 C585.07,358.88 586.25,363.2 587.8,366.8 C589.35,370.4 591.27,373.38 593.2,376.1 C595.13,378.82 597.73,381.68 599.4,383.1 C601.07,384.52 602.1,384.53 603.2,384.6 C604.3,384.67 604.8,384.67 606,383.5 C607.2,382.33 608.9,380.63 610.4,377.6 C611.9,374.57 613.2,370.97 615,365.3 C616.8,359.63 619.27,350.57 621.2,343.6 C623.13,336.63 624.93,328.13 626.6,323.5 C628.27,318.87 629.78,317.47 631.2,315.8 C632.62,314.13 627.88,313.88 635.1,313.5 C642.32,313.12 667.93,313.5 674.5,313.5" fill="none" stroke="#ff0000" stroke-width="0.9" stroke-linejoin="round"/>
<g fill="none" stroke="#000" stroke-width="1.25"><circle cx="528.3" cy="313.8" r="1.75"/><circle cx="531.41" cy="313.8" r="1.75"/><circle cx="534.52" cy="313.8" r="1.75"/><circle cx="537.63" cy="313.8" r="1.75"/><circle cx="540.74" cy="313.8" r="1.75"/><circle cx="543.85" cy="313.8" r="1.75"/><circle cx="546.96" cy="313.8" r="1.75"/><circle cx="550.07" cy="313.8" r="1.75"/><circle cx="553.18" cy="313.8" r="1.75"/><circle cx="556.29" cy="313.8" r="1.75"/><circle cx="559.4" cy="313.8" r="1.75"/><circle cx="562.51" cy="313.8" r="1.75"/><circle cx="565.62" cy="313.86" r="1.75"/><circle cx="568.73" cy="314.86" r="1.75"/><circle cx="571.84" cy="318.57" r="1.75"/><circle cx="574.95" cy="324.7" r="1.75"/><circle cx="578.06" cy="337.29" r="1.75"/><circle cx="581.17" cy="351.66" r="1.75"/><circle cx="584.28" cy="360.5" r="1.75"/><circle cx="587.39" cy="368.24" r="1.75"/><circle cx="590.5" cy="373.13" r="1.75"/><circle cx="593.61" cy="377.02" r="1.75"/><circle cx="596.72" cy="380.42" r="1.75"/><circle cx="599.83" cy="383.81" r="1.75"/><circle cx="602.94" cy="385.07" r="1.75"/><circle cx="606.05" cy="383.05" r="1.75"/><circle cx="609.16" cy="380.18" r="1.75"/><circle cx="612.27" cy="373.97" r="1.75"/><circle cx="615.38" cy="363.92" r="1.75"/><circle cx="618.49" cy="352.88" r="1.75"/><circle cx="621.6" cy="341.71" r="1.75"/><circle cx="624.71" cy="329.72" r="1.75"/><circle cx="627.82" cy="321.77" r="1.75"/><circle cx="630.93" cy="316.02" r="1.75"/><circle cx="634.04" cy="314.27" r="1.75"/><circle cx="637.15" cy="313.6" r="1.75"/><circle cx="640.26" cy="313.6" r="1.75"/><circle cx="643.37" cy="313.6" r="1.75"/><circle cx="646.48" cy="313.6" r="1.75"/><circle cx="649.59" cy="313.6" r="1.75"/><circle cx="652.7" cy="313.6" r="1.75"/><circle cx="655.81" cy="313.6" r="1.75"/><circle cx="658.92" cy="313.6" r="1.75"/><circle cx="662.03" cy="313.6" r="1.75"/><circle cx="665.14" cy="313.6" r="1.75"/><circle cx="668.25" cy="313.6" r="1.75"/><circle cx="671.36" cy="313.6" r="1.75"/><circle cx="674.47" cy="313.6" r="1.75"/></g>
<line x1="638.7" y1="367.8" x2="650.9" y2="367.8" stroke="#ff0000" stroke-width="1.15"/>
<g fill="none" stroke="#000" stroke-width="1.25"><circle cx="644.7" cy="379.3" r="1.75"/></g>
<text x="653.8" y="371.1" font-size="10.3" textLength="18" lengthAdjust="spacingAndGlyphs">DNS</text>
<text x="653.8" y="382.5" font-size="10.3" textLength="16" lengthAdjust="spacingAndGlyphs">REC</text>
<line x1="521.5" y1="438.2" x2="681.3" y2="438.2" stroke="#e0e0e0" stroke-width="1.2"/>
<line x1="520.9" y1="516" x2="681.3" y2="516" stroke="#2a2a2a" stroke-width="1.2"/>
<line x1="521.5" y1="438.2" x2="521.5" y2="516.6" stroke="#2a2a2a" stroke-width="1.2"/>
<line x1="518.2" y1="497.5" x2="521.5" y2="497.5" stroke="#2a2a2a" stroke-width="1.0"/>
<text x="515.7" y="502.7" font-size="14.2" text-anchor="end" textLength="30.41" lengthAdjust="spacingAndGlyphs">-0.02</text>
<line x1="518.2" y1="477.5" x2="521.5" y2="477.5" stroke="#2a2a2a" stroke-width="1.0"/>
<text x="515.7" y="482.8" font-size="14.2" text-anchor="end" textLength="25.93" lengthAdjust="spacingAndGlyphs">0.00</text>
<line x1="518.2" y1="457.5" x2="521.5" y2="457.5" stroke="#2a2a2a" stroke-width="1.0"/>
<text x="515.7" y="462.9" font-size="14.2" text-anchor="end" textLength="25.93" lengthAdjust="spacingAndGlyphs">0.02</text>
<line x1="523.5" y1="516" x2="523.5" y2="518.6" stroke="#2a2a2a" stroke-width="1.0"/>
<text x="523.2" y="531.9" font-size="14.2" text-anchor="middle" textLength="11.89" lengthAdjust="spacingAndGlyphs">-4</text>
<line x1="542.5" y1="516" x2="542.5" y2="518.6" stroke="#2a2a2a" stroke-width="1.0"/>
<text x="542.7" y="531.9" font-size="14.2" text-anchor="middle" textLength="11.89" lengthAdjust="spacingAndGlyphs">-3</text>
<line x1="562.5" y1="516" x2="562.5" y2="518.6" stroke="#2a2a2a" stroke-width="1.0"/>
<text x="562.2" y="531.9" font-size="14.2" text-anchor="middle" textLength="11.89" lengthAdjust="spacingAndGlyphs">-2</text>
<line x1="581.5" y1="516" x2="581.5" y2="518.6" stroke="#2a2a2a" stroke-width="1.0"/>
<text x="581.7" y="531.9" font-size="14.2" text-anchor="middle" textLength="11.89" lengthAdjust="spacingAndGlyphs">-1</text>
<line x1="601.5" y1="516" x2="601.5" y2="518.6" stroke="#2a2a2a" stroke-width="1.0"/>
<text x="601.2" y="531.9" font-size="14.2" text-anchor="middle" textLength="7.42" lengthAdjust="spacingAndGlyphs">0</text>
<line x1="620.5" y1="516" x2="620.5" y2="518.6" stroke="#2a2a2a" stroke-width="1.0"/>
<text x="620.7" y="531.9" font-size="14.2" text-anchor="middle" textLength="7.42" lengthAdjust="spacingAndGlyphs">1</text>
<line x1="640.5" y1="516" x2="640.5" y2="518.6" stroke="#2a2a2a" stroke-width="1.0"/>
<text x="640.2" y="531.9" font-size="14.2" text-anchor="middle" textLength="7.42" lengthAdjust="spacingAndGlyphs">2</text>
<line x1="659.5" y1="516" x2="659.5" y2="518.6" stroke="#2a2a2a" stroke-width="1.0"/>
<text x="659.7" y="531.9" font-size="14.2" text-anchor="middle" textLength="7.42" lengthAdjust="spacingAndGlyphs">3</text>
<line x1="679.5" y1="516" x2="679.5" y2="518.6" stroke="#2a2a2a" stroke-width="1.0"/>
<text x="679.2" y="531.9" font-size="14.2" text-anchor="middle" textLength="7.42" lengthAdjust="spacingAndGlyphs">4</text>
<path d="M528,477.3 C534.3,477.25 558.62,477.63 565.8,477 C572.98,476.37 569.58,475.33 571.1,473.5 C572.62,471.67 573.65,469.65 574.9,466 C576.15,462.35 577.35,455.38 578.6,451.6 C579.85,447.82 581.38,445.02 582.4,443.3 C583.42,441.58 583.7,440.42 584.7,441.3 C585.7,442.18 587.02,444.87 588.4,448.6 C589.78,452.33 591.48,459.17 593,463.7 C594.52,468.23 596.03,472.78 597.5,475.8 C598.97,478.82 600.47,479.28 601.8,481.8 C603.13,484.32 604.12,487.38 605.5,490.9 C606.88,494.42 608.7,499.77 610.1,502.9 C611.5,506.03 612.52,508.12 613.9,509.7 C615.28,511.28 617.02,512.52 618.4,512.4 C619.78,512.28 620.95,510.83 622.2,509 C623.45,507.17 624.78,504.42 625.9,501.4 C627.02,498.38 627.88,494.42 628.9,490.9 C629.92,487.38 630.98,482.52 632,480.3 C633.02,478.08 627.88,478.05 635,477.6 C642.12,477.15 668.08,477.6 674.7,477.6" fill="none" stroke="#ff0000" stroke-width="0.9" stroke-linejoin="round"/>
<g fill="none" stroke="#000" stroke-width="1.25"><circle cx="528.1" cy="477.3" r="1.75"/><circle cx="531.21" cy="477.3" r="1.75"/><circle cx="534.32" cy="477.3" r="1.75"/><circle cx="537.43" cy="477.3" r="1.75"/><circle cx="540.54" cy="477.3" r="1.75"/><circle cx="543.65" cy="477.3" r="1.75"/><circle cx="546.76" cy="477.3" r="1.75"/><circle cx="549.87" cy="477.3" r="1.75"/><circle cx="552.98" cy="477.3" r="1.75"/><circle cx="556.09" cy="477.3" r="1.75"/><circle cx="559.2" cy="477.3" r="1.75"/><circle cx="562.31" cy="477.3" r="1.75"/><circle cx="565.42" cy="477.3" r="1.75"/><circle cx="568.53" cy="475.94" r="1.75"/><circle cx="571.64" cy="473.34" r="1.75"/><circle cx="574.75" cy="467.49" r="1.75"/><circle cx="577.86" cy="455.06" r="1.75"/><circle cx="580.97" cy="444.38" r="1.75"/><circle cx="584.08" cy="443.34" r="1.75"/><circle cx="587.19" cy="450.03" r="1.75"/><circle cx="590.3" cy="460.34" r="1.75"/><circle cx="593.41" cy="470.28" r="1.75"/><circle cx="596.52" cy="476.65" r="1.75"/><circle cx="599.63" cy="479.65" r="1.75"/><circle cx="602.74" cy="481.47" r="1.75"/><circle cx="605.85" cy="484.11" r="1.75"/><circle cx="608.96" cy="490.44" r="1.75"/><circle cx="612.07" cy="498.59" r="1.75"/><circle cx="615.18" cy="503.38" r="1.75"/><circle cx="618.29" cy="508.81" r="1.75"/><circle cx="621.4" cy="505.74" r="1.75"/><circle cx="624.51" cy="500.24" r="1.75"/><circle cx="627.62" cy="490.25" r="1.75"/><circle cx="630.73" cy="480.81" r="1.75"/><circle cx="633.84" cy="478.05" r="1.75"/><circle cx="636.95" cy="477.7" r="1.75"/><circle cx="640.06" cy="477.7" r="1.75"/><circle cx="643.17" cy="477.7" r="1.75"/><circle cx="646.28" cy="477.7" r="1.75"/><circle cx="649.39" cy="477.7" r="1.75"/><circle cx="652.5" cy="477.7" r="1.75"/><circle cx="655.61" cy="477.7" r="1.75"/><circle cx="658.72" cy="477.7" r="1.75"/><circle cx="661.83" cy="477.7" r="1.75"/><circle cx="664.94" cy="477.7" r="1.75"/><circle cx="668.05" cy="477.7" r="1.75"/><circle cx="671.16" cy="477.7" r="1.75"/><circle cx="674.27" cy="477.7" r="1.75"/></g>
<line x1="636.9" y1="496.5" x2="649.3" y2="496.5" stroke="#ff0000" stroke-width="1.15"/>
<g fill="none" stroke="#000" stroke-width="1.25"><circle cx="642.9" cy="507.6" r="1.75"/></g>
<text x="651.8" y="499.8" font-size="10.3" textLength="18" lengthAdjust="spacingAndGlyphs">DNS</text>
<text x="651.8" y="510.8" font-size="10.3" textLength="16" lengthAdjust="spacingAndGlyphs">REC</text>
<text transform="translate(149.96,160.75) scale(0.7794,1)" font-size="17.12" font-style="italic">y</text>
<text transform="translate(157.34,153.5) scale(0.9245,1)" font-size="12.47">+</text>
<text transform="translate(352.86,160.65) scale(0.7794,1)" font-size="17.12" font-style="italic">y</text>
<text transform="translate(360.24,153.4) scale(0.9245,1)" font-size="12.47">+</text>
<text transform="translate(158.06,292.35) scale(0.7794,1)" font-size="17.12" font-style="italic">y</text>
<text transform="translate(165.44,285.1) scale(0.9245,1)" font-size="12.47">+</text>
<text transform="translate(359.96,291.35) scale(0.7794,1)" font-size="17.12" font-style="italic">y</text>
<text transform="translate(367.34,284.1) scale(0.9245,1)" font-size="12.47">+</text>
<text transform="translate(148.46,424.75) scale(0.7794,1)" font-size="17.12" font-style="italic">y</text>
<text transform="translate(155.84,417.5) scale(0.9245,1)" font-size="12.47">+</text>
<text transform="translate(351.46,423.15) scale(0.7794,1)" font-size="17.12" font-style="italic">y</text>
<text transform="translate(358.84,415.9) scale(0.9245,1)" font-size="12.47">+</text>
<text transform="translate(146.76,552.25) scale(0.7794,1)" font-size="17.12" font-style="italic">y</text>
<text transform="translate(154.14,545) scale(0.9245,1)" font-size="12.47">+</text>
<text transform="translate(349.06,550.55) scale(0.7794,1)" font-size="17.12" font-style="italic">y</text>
<text transform="translate(356.44,543.3) scale(0.9245,1)" font-size="12.47">+</text>
<text transform="translate(585.79,159.7) scale(0.8858,1)" font-size="16.66" font-style="italic">x</text>
<text transform="translate(595.44,163.96) scale(0.7514,1)" font-size="24.37" font-style="italic">/</text>
<text transform="translate(602.15,162.53) scale(0.9610,1)" font-size="16.87" font-style="italic">d</text>
<text transform="translate(588.19,292.6) scale(0.8858,1)" font-size="16.66" font-style="italic">x</text>
<text transform="translate(597.84,296.86) scale(0.7514,1)" font-size="24.37" font-style="italic">/</text>
<text transform="translate(604.55,295.43) scale(0.9610,1)" font-size="16.87" font-style="italic">d</text>
<text transform="translate(587.08,421.6) scale(0.8536,1)" font-size="15.71" font-style="italic">z</text>
<text transform="translate(596.84,426.06) scale(0.7472,1)" font-size="24.51" font-style="italic">/</text>
<text transform="translate(603.56,424.43) scale(0.9502,1)" font-size="16.87" font-style="italic">d</text>
<text transform="translate(586.48,549.6) scale(0.8536,1)" font-size="15.71" font-style="italic">z</text>
<text transform="translate(596.24,554.06) scale(0.7472,1)" font-size="24.51" font-style="italic">/</text>
<text transform="translate(602.96,552.43) scale(0.9502,1)" font-size="16.87" font-style="italic">d</text>
<text transform="translate(37.62,90.55) rotate(-90) scale(0.8489,1)" font-size="18.06" font-style="italic">U</text>
<text transform="translate(29.77,79.56) rotate(-90) scale(1.0443,1)" font-size="11.04">+</text>
<text transform="translate(479.44,96.75) rotate(-90) scale(0.9086,1)" font-size="16.93" font-style="italic">u</text>
<line x1="468.6" y1="85.9" x2="468.6" y2="95.6" stroke="#1a1a1a" stroke-width="1.1"/>
<text transform="translate(481.23,88.03) rotate(-90) scale(0.9601,1)" font-size="17.84" font-style="italic">/</text>
<text transform="translate(482.05,82.12) rotate(-90) scale(0.8073,1)" font-size="15.19" font-style="italic">U</text>
<text transform="translate(480.41,72.79) rotate(-90) scale(1.7022,1)" font-size="8.14">∞</text>
<text transform="translate(479.44,229.75) rotate(-90) scale(0.9086,1)" font-size="16.93" font-style="italic">u</text>
<line x1="468.6" y1="218.9" x2="468.6" y2="228.6" stroke="#1a1a1a" stroke-width="1.1"/>
<text transform="translate(481.23,221.03) rotate(-90) scale(0.9601,1)" font-size="17.84" font-style="italic">/</text>
<text transform="translate(482.05,215.12) rotate(-90) scale(0.8073,1)" font-size="15.19" font-style="italic">U</text>
<text transform="translate(480.41,205.79) rotate(-90) scale(1.7022,1)" font-size="8.14">∞</text>
<text transform="translate(479.94,358.25) rotate(-90) scale(0.9086,1)" font-size="16.93" font-style="italic">u</text>
<line x1="469.1" y1="347.4" x2="469.1" y2="357.1" stroke="#1a1a1a" stroke-width="1.1"/>
<text transform="translate(481.73,349.53) rotate(-90) scale(0.9601,1)" font-size="17.84" font-style="italic">/</text>
<text transform="translate(482.55,343.62) rotate(-90) scale(0.8073,1)" font-size="15.19" font-style="italic">U</text>
<text transform="translate(480.91,334.29) rotate(-90) scale(1.7022,1)" font-size="8.14">∞</text>
<line x1="464.3" y1="470.3" x2="464.3" y2="501.5" stroke="#1a1a1a" stroke-width="1.1"/>
<text transform="translate(479.75,502.55) rotate(-90) scale(0.9290,1)" font-size="16.56" font-style="italic">u</text>
<line x1="466.4" y1="489.5" x2="471" y2="490.6" stroke="#1a1a1a" stroke-width="1.1"/>
<text transform="translate(479.6,488.24) rotate(-90) scale(1.0322,1)" font-size="16.28" font-style="italic">w</text>
<line x1="466.4" y1="471.1" x2="471" y2="472.4" stroke="#1a1a1a" stroke-width="1.1"/>
<text transform="translate(480.47,469.79) rotate(-90) scale(0.9851,1)" font-size="23.42" font-style="italic">/</text>
<text transform="translate(480.85,462.13) rotate(-90) scale(0.9256,1)" font-size="14.90" font-style="italic">U</text>
<text transform="translate(479.44,451.76) rotate(-90) scale(1.3984,1)" font-size="9.45">∞</text>
<text transform="translate(470.2,451.93) rotate(-90) scale(1.1147,1)" font-size="9.45">2</text>
<text transform="translate(33.16,258.6) rotate(-90) scale(1.1063,1)" font-size="15.00" font-style="italic">u</text>
<text transform="translate(26.99,248.24) rotate(-90) scale(1.0070,1)" font-size="8.99">+</text>
<text transform="translate(39.19,250.09) rotate(-90) scale(0.9929,1)" font-size="11.50" font-style="italic">rms</text>
<text transform="translate(32.3,235.28) rotate(-90) scale(0.9463,1)" font-size="15.00" font-style="italic">v</text>
<text transform="translate(24.59,225.48) rotate(-90) scale(1.0986,1)" font-size="8.99">+</text>
<text transform="translate(38.19,228.87) rotate(-90) scale(0.8755,1)" font-size="11.50" font-style="italic">rms</text>
<text transform="translate(31.7,213.49) rotate(-90) scale(1.0559,1)" font-size="15.00" font-style="italic">w</text>
<text transform="translate(25.57,199.17) rotate(-90) scale(1.1007,1)" font-size="8.79">+</text>
<text transform="translate(39.38,201.08) rotate(-90) scale(0.9055,1)" font-size="12.00" font-style="italic">rms</text>
<text transform="translate(37.04,349.38) rotate(-90) scale(0.8600,1)" font-size="20.48">-</text>
<text transform="translate(36.15,342.19) rotate(-90) scale(0.8754,1)" font-size="16.18" font-style="italic">u</text>
<line x1="23.5" y1="329.9" x2="27.8" y2="331.1" stroke="#1a1a1a" stroke-width="1.1"/>
<text transform="translate(36.3,328.52) rotate(-90) scale(0.8492,1)" font-size="15.52" font-style="italic">v</text>
<line x1="23.5" y1="316.1" x2="28" y2="317.3" stroke="#1a1a1a" stroke-width="1.1"/>
<line x1="21.4" y1="317.4" x2="21.4" y2="344.5" stroke="#1a1a1a" stroke-width="1.2"/>
<line x1="14.2" y1="315" x2="19.6" y2="315" stroke="#1a1a1a" stroke-width="1.1"/>
<line x1="16.9" y1="312.6" x2="16.9" y2="317.4" stroke="#1a1a1a" stroke-width="1.1"/>
<text transform="translate(32.54,493.63) rotate(-90) scale(0.9678,1)" font-size="16.78" font-style="italic">ω</text>
<line x1="16.8" y1="481" x2="22.2" y2="481" stroke="#1a1a1a" stroke-width="1.1"/>
<line x1="19.5" y1="478.5" x2="19.5" y2="483.5" stroke="#1a1a1a" stroke-width="1.1"/>
<text transform="translate(36.7,480.43) rotate(-90) scale(0.9483,1)" font-size="12.50" font-style="italic">x,rms</text>
</svg></body></html>
